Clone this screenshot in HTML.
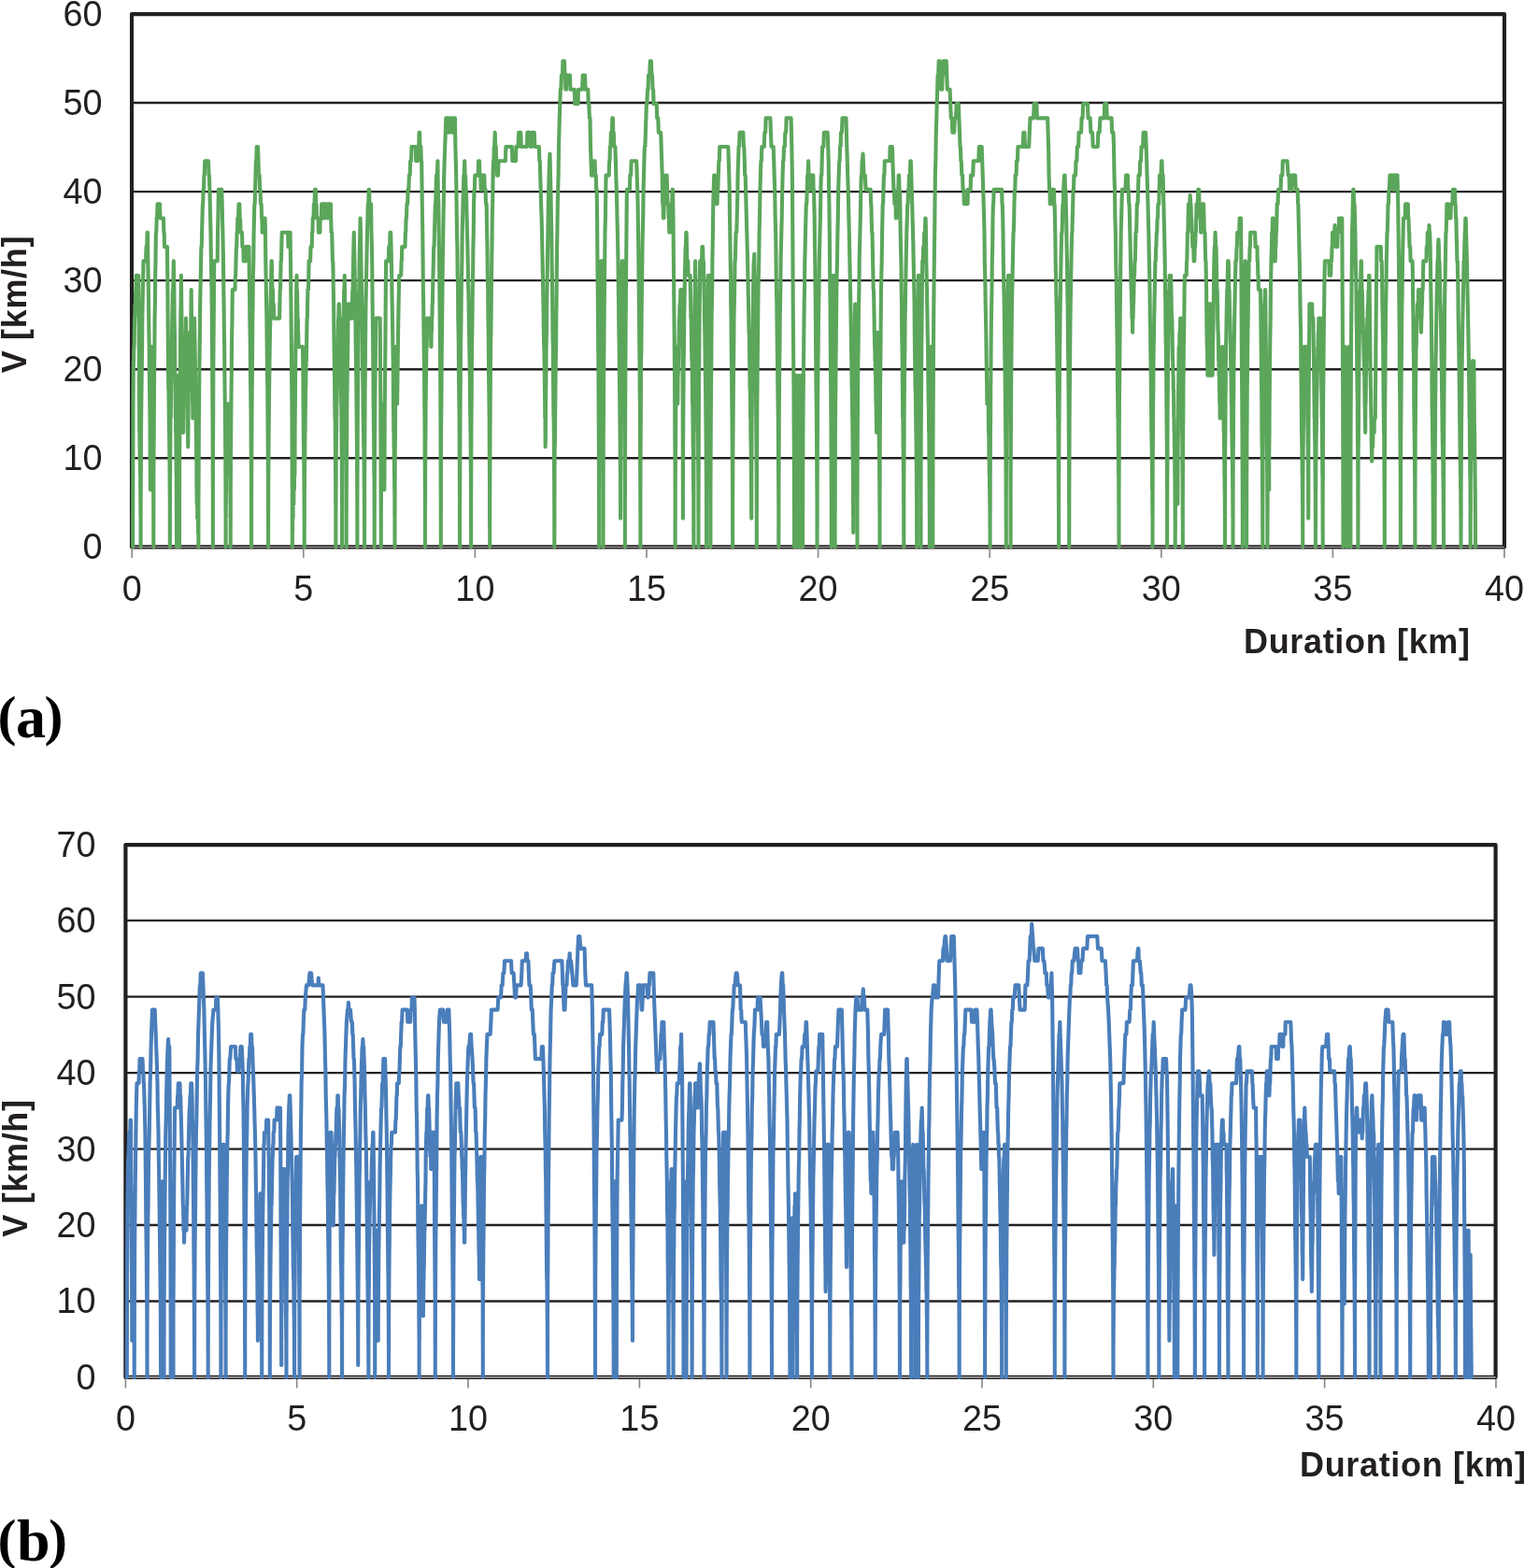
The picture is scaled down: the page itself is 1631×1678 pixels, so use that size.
<!DOCTYPE html>
<html lang="en">
<head>
<meta charset="utf-8">
<title>Speed profiles</title>
<style>
html,body{margin:0;padding:0;background:#fff;}
body{width:1631px;height:1678px;overflow:hidden;}
svg{display:block;}
.t{font-family:"Liberation Sans",sans-serif;font-size:38.8px;fill:#231f20;}
.b{font-family:"Liberation Sans",sans-serif;font-size:36px;font-weight:bold;letter-spacing:0.67px;fill:#231f20;}
.s{font-family:"Liberation Serif",serif;font-size:60px;font-weight:bold;fill:#000;}
</style>
</head>
<body>
<svg width="1631" height="1678" viewBox="0 0 1631 1678">
<rect width="1631" height="1678" fill="#fff"/>
<g id="chart-a">
<line x1="141.0" y1="490.25" x2="1610.0" y2="490.25" stroke="#231f20" stroke-width="2.4"/>
<line x1="141.0" y1="395.20" x2="1610.0" y2="395.20" stroke="#231f20" stroke-width="2.4"/>
<line x1="141.0" y1="300.15" x2="1610.0" y2="300.15" stroke="#231f20" stroke-width="2.4"/>
<line x1="141.0" y1="205.10" x2="1610.0" y2="205.10" stroke="#231f20" stroke-width="2.4"/>
<line x1="141.0" y1="110.05" x2="1610.0" y2="110.05" stroke="#231f20" stroke-width="2.4"/>
<rect x="141.0" y="15.10" width="1469.0" height="570.30" fill="none" stroke="#231f20" stroke-width="4.1" stroke-linejoin="round"/>
<line x1="141.0" y1="585.40" x2="1610.0" y2="585.40" stroke="#c4c4c4" stroke-width="0.9"/>
<line x1="141.2" y1="587.4" x2="141.2" y2="596.9" stroke="#8c8c8c" stroke-width="1.7"/>
<line x1="324.8" y1="587.4" x2="324.8" y2="596.9" stroke="#8c8c8c" stroke-width="1.7"/>
<line x1="508.4" y1="587.4" x2="508.4" y2="596.9" stroke="#8c8c8c" stroke-width="1.7"/>
<line x1="692.0" y1="587.4" x2="692.0" y2="596.9" stroke="#8c8c8c" stroke-width="1.7"/>
<line x1="875.6" y1="587.4" x2="875.6" y2="596.9" stroke="#8c8c8c" stroke-width="1.7"/>
<line x1="1059.2" y1="587.4" x2="1059.2" y2="596.9" stroke="#8c8c8c" stroke-width="1.7"/>
<line x1="1242.8" y1="587.4" x2="1242.8" y2="596.9" stroke="#8c8c8c" stroke-width="1.7"/>
<line x1="1426.4" y1="587.4" x2="1426.4" y2="596.9" stroke="#8c8c8c" stroke-width="1.7"/>
<line x1="1610.0" y1="587.4" x2="1610.0" y2="596.9" stroke="#8c8c8c" stroke-width="1.7"/>
<polyline fill="none" stroke="#5ba65b" stroke-width="4.1" stroke-linejoin="round" stroke-linecap="round" points="142.2,585.3 142.2,554.7 142.3,508.8 142.4,478.2 142.5,432.3 142.7,401.7 142.9,386.4 143.1,386.4 143.3,371.1 143.6,371.1 143.8,355.8 144.1,340.6 144.3,340.6 144.6,325.3 144.9,325.3 145.2,310.0 145.5,310.0 145.8,294.7 148.2,294.7 148.5,325.3 148.7,355.8 148.9,401.7 149.1,432.3 149.2,462.9 149.4,462.9 149.5,478.2 149.6,478.2 149.7,493.5 149.9,493.5 150.0,508.8 150.2,508.8 150.2,524.1 150.3,524.1 150.3,539.4 150.4,539.4 150.5,554.7 150.6,554.7 150.6,570.0 150.6,570.0 150.6,585.3 150.6,585.3 150.6,570.0 150.6,554.7 150.7,524.1 150.8,508.8 150.9,493.5 151.0,462.9 151.1,447.6 151.3,432.3 151.5,417.0 151.7,401.7 151.9,386.4 152.1,371.1 152.3,340.6 152.6,325.3 152.9,310.0 153.2,294.7 153.5,279.4 156.1,279.4 156.5,264.1 157.2,264.1 157.6,248.8 158.0,248.8 158.3,279.4 158.6,294.7 158.9,310.0 159.2,340.6 159.4,355.8 159.7,371.1 159.9,401.7 160.1,417.0 160.3,432.3 160.5,447.6 160.6,462.9 160.7,493.5 160.8,508.8 160.9,524.1 161.0,508.8 161.1,493.5 161.2,478.2 161.3,462.9 161.5,432.3 161.6,417.0 161.8,401.7 162.0,386.4 162.3,371.1 162.5,386.4 162.7,401.7 162.9,401.7 163.1,417.0 163.3,432.3 163.4,447.6 163.6,447.6 163.7,462.9 163.8,478.2 163.9,493.5 164.0,508.8 164.1,508.8 164.2,524.1 164.2,539.4 164.3,554.7 164.3,554.7 164.3,570.0 164.3,585.3 164.3,554.7 164.4,539.4 164.4,508.8 164.5,493.5 164.7,462.9 164.8,447.6 165.0,417.0 165.1,401.7 165.4,371.1 165.6,340.6 165.9,325.3 166.2,294.7 166.5,279.4 166.9,248.8 167.3,248.8 167.7,233.5 168.1,233.5 168.5,218.2 171.0,218.2 171.4,233.5 175.0,233.5 175.3,248.8 175.7,248.8 176.0,264.1 178.9,264.1 179.3,294.7 179.6,340.6 179.9,371.1 180.1,401.7 180.3,417.0 180.5,417.0 180.7,432.3 180.8,447.6 181.0,462.9 181.1,462.9 181.3,478.2 181.4,493.5 181.5,493.5 181.6,508.8 181.6,524.1 181.7,524.1 181.8,539.4 181.8,554.7 181.8,570.0 181.8,570.0 181.8,585.3 181.9,570.0 181.9,554.7 181.9,539.4 182.0,539.4 182.0,524.1 182.1,508.8 182.2,493.5 182.3,478.2 182.4,462.9 182.5,447.6 182.7,447.6 182.9,432.3 183.0,417.0 183.2,401.7 183.4,386.4 183.6,371.1 183.9,371.1 184.1,355.8 184.3,340.6 184.6,325.3 184.9,310.0 185.2,310.0 185.5,294.7 185.8,279.4 186.1,294.7 186.4,310.0 186.6,340.6 186.9,355.8 187.1,371.1 187.3,401.7 187.5,417.0 187.7,432.3 187.8,447.6 188.0,447.6 188.1,462.9 188.3,462.9 188.4,478.2 188.5,493.5 188.6,493.5 188.7,508.8 188.8,508.8 188.8,524.1 188.9,524.1 188.9,539.4 189.0,554.7 189.0,554.7 189.0,570.0 189.1,570.0 189.1,585.3 189.1,570.0 189.1,554.7 189.1,539.4 189.2,524.1 189.3,508.8 189.4,493.5 189.5,478.2 189.6,462.9 189.8,447.6 189.9,432.3 190.1,432.3 190.2,417.0 190.4,401.7 190.6,401.7 190.8,417.0 190.9,432.3 191.1,462.9 191.2,478.2 191.3,493.5 191.4,493.5 191.5,508.8 191.6,508.8 191.6,524.1 191.7,524.1 191.8,539.4 191.8,539.4 191.9,554.7 191.9,554.7 191.9,570.0 192.0,570.0 192.0,585.3 192.0,585.3 192.0,570.0 192.0,539.4 192.1,524.1 192.1,508.8 192.2,478.2 192.4,462.9 192.5,447.6 192.7,417.0 192.8,401.7 193.0,371.1 193.3,340.6 193.6,325.3 193.9,294.7 194.2,325.3 194.4,340.6 194.7,371.1 194.9,401.7 195.1,417.0 195.3,417.0 195.5,432.3 195.6,432.3 195.8,447.6 196.0,447.6 196.1,462.9 196.2,447.6 196.4,432.3 196.6,401.7 196.7,386.4 197.0,371.1 197.2,386.4 197.4,401.7 197.6,401.7 197.8,417.0 198.0,432.3 198.2,417.0 198.3,401.7 198.5,371.1 198.8,355.8 199.0,340.6 199.2,355.8 199.5,371.1 199.7,386.4 199.9,401.7 200.0,417.0 200.2,432.3 200.6,432.3 200.7,447.6 200.9,462.9 201.1,462.9 201.2,478.2 201.4,462.9 201.5,447.6 201.7,417.0 201.9,401.7 202.1,386.4 202.3,371.1 202.7,371.1 203.0,355.8 203.2,371.1 203.4,386.4 203.6,401.7 203.8,417.0 204.0,386.4 204.2,371.1 204.4,340.6 204.7,310.0 205.0,340.6 205.3,371.1 205.5,401.7 205.7,417.0 205.9,417.0 206.1,432.3 206.2,432.3 206.4,447.6 206.5,432.3 206.7,417.0 206.9,401.7 207.1,386.4 207.3,371.1 207.5,355.8 207.8,355.8 208.1,340.6 208.3,355.8 208.6,371.1 208.8,386.4 209.0,401.7 209.2,417.0 209.4,432.3 209.5,432.3 209.7,447.6 209.8,462.9 209.9,462.9 210.1,478.2 210.2,493.5 210.4,493.5 210.4,508.8 210.5,524.1 210.6,524.1 210.7,539.4 211.2,539.4 211.2,554.7 212.0,554.7 212.0,570.0 212.4,570.0 212.4,585.3 212.4,585.3 212.4,570.0 212.4,539.4 212.5,524.1 212.6,508.8 212.7,493.5 212.8,462.9 212.9,447.6 213.1,432.3 213.3,401.7 213.5,386.4 213.7,371.1 213.9,355.8 214.2,325.3 214.5,310.0 214.8,294.7 215.1,279.4 215.4,264.1 215.8,264.1 216.1,248.8 216.5,233.5 216.9,218.2 217.2,218.2 217.6,202.9 218.0,202.9 218.4,187.6 218.8,187.6 219.2,172.3 223.0,172.3 223.5,187.6 223.9,187.6 224.4,202.9 224.8,218.2 225.1,233.5 225.5,248.8 225.9,279.4 226.2,294.7 226.5,310.0 226.8,340.6 227.0,371.1 227.2,401.7 227.4,432.3 227.6,462.9 227.7,493.5 227.8,524.1 227.8,554.7 227.9,585.3 227.9,554.7 227.9,508.8 228.0,478.2 228.2,447.6 228.3,401.7 228.5,371.1 228.9,325.3 229.2,279.4 232.7,279.4 233.0,248.8 233.4,233.5 233.9,202.9 237.3,202.9 237.7,218.2 238.0,233.5 238.4,248.8 238.7,264.1 239.0,279.4 239.3,310.0 239.6,325.3 239.9,355.8 240.2,371.1 240.4,401.7 240.6,417.0 240.8,432.3 240.9,447.6 241.1,462.9 241.2,478.2 241.3,493.5 241.4,508.8 241.5,524.1 241.5,539.4 241.6,554.7 241.6,570.0 241.6,585.3 241.6,585.3 241.6,570.0 241.6,570.0 241.6,554.7 241.7,554.7 241.7,539.4 241.8,539.4 241.9,524.1 242.0,524.1 242.0,508.8 242.2,508.8 242.3,493.5 242.5,493.5 242.6,478.2 242.7,478.2 242.8,462.9 243.2,462.9 243.4,447.6 243.7,447.6 243.8,432.3 244.5,432.3 244.6,447.6 244.9,447.6 245.1,462.9 245.5,462.9 245.6,478.2 245.7,478.2 245.8,493.5 246.0,493.5 246.1,508.8 246.3,508.8 246.4,524.1 246.4,524.1 246.5,539.4 246.6,539.4 246.6,554.7 246.7,554.7 246.7,570.0 246.7,570.0 246.7,585.3 246.7,585.3 246.7,570.0 246.8,554.7 246.8,524.1 246.9,508.8 247.0,493.5 247.1,478.2 247.2,462.9 247.4,432.3 247.6,417.0 247.8,401.7 248.0,371.1 248.2,355.8 248.5,340.6 248.8,310.0 251.5,310.0 251.9,294.7 252.2,294.7 252.5,279.4 252.9,264.1 253.2,264.1 253.6,248.8 254.0,248.8 254.3,233.5 255.1,233.5 255.5,218.2 256.3,218.2 256.7,233.5 257.1,233.5 257.5,248.8 259.0,248.8 259.4,264.1 260.4,264.1 260.7,279.4 262.9,279.4 263.2,264.1 266.5,264.1 266.8,294.7 267.1,310.0 267.3,340.6 267.6,355.8 267.8,371.1 268.0,401.7 268.2,417.0 268.4,432.3 268.6,447.6 268.7,478.2 268.8,493.5 268.9,508.8 269.0,524.1 269.0,554.7 269.0,570.0 269.1,585.3 269.1,554.7 269.1,539.4 269.2,508.8 269.3,493.5 269.4,462.9 269.5,447.6 269.7,417.0 269.9,401.7 270.1,371.1 270.3,340.6 270.6,325.3 270.9,294.7 271.3,279.4 271.6,248.8 272.0,233.5 272.3,218.2 272.7,218.2 273.1,202.9 273.5,187.6 273.9,172.3 274.3,172.3 274.7,157.0 276.0,157.0 276.5,172.3 276.9,187.6 277.7,187.6 278.1,202.9 278.6,202.9 279.0,218.2 279.7,218.2 280.1,233.5 280.4,233.5 280.7,248.8 281.4,248.8 281.8,233.5 283.6,233.5 284.0,248.8 284.3,279.4 284.6,294.7 284.8,310.0 285.1,325.3 285.4,340.6 285.7,371.1 285.9,386.4 286.1,401.7 286.3,417.0 286.4,432.3 286.6,462.9 286.7,478.2 286.8,493.5 286.9,508.8 287.0,524.1 287.0,554.7 287.1,570.0 287.1,585.3 287.1,570.0 287.1,554.7 287.2,539.4 287.2,524.1 287.3,508.8 287.4,493.5 287.5,478.2 287.6,462.9 287.8,447.6 287.9,432.3 288.1,417.0 288.3,401.7 288.5,386.4 288.7,371.1 289.0,355.8 289.3,340.6 289.5,325.3 289.9,310.0 290.2,294.7 290.5,279.4 290.8,279.4 291.1,294.7 291.4,310.0 292.0,310.0 292.2,325.3 292.8,325.3 293.1,340.6 299.1,340.6 299.4,325.3 299.7,310.0 300.0,310.0 300.3,294.7 300.6,279.4 301.0,279.4 301.3,264.1 301.7,248.8 308.1,248.8 308.5,264.1 308.9,264.1 309.2,248.8 310.6,248.8 311.0,279.4 311.3,310.0 311.6,340.6 311.9,371.1 312.1,401.7 312.3,417.0 312.5,447.6 312.6,478.2 312.7,508.8 312.8,524.1 312.8,554.7 312.8,585.3 312.9,585.3 312.9,570.0 313.1,570.0 313.1,554.7 313.6,554.7 313.7,539.4 314.3,539.4 314.4,524.1 314.9,524.1 315.0,508.8 315.4,508.8 315.5,493.5 315.6,462.9 315.7,447.6 315.9,432.3 316.0,417.0 316.2,386.4 316.4,371.1 316.7,355.8 316.9,340.6 317.2,310.0 317.5,294.7 317.7,310.0 318.0,310.0 318.3,325.3 318.5,340.6 318.8,340.6 319.0,355.8 319.2,355.8 319.5,371.1 324.0,371.1 324.2,386.4 324.4,401.7 324.6,432.3 324.7,447.6 324.8,462.9 325.0,478.2 325.1,478.2 325.2,493.5 325.3,493.5 325.4,508.8 325.5,524.1 325.5,524.1 325.6,539.4 325.6,554.7 325.7,554.7 325.7,570.0 325.7,570.0 325.7,585.3 325.7,570.0 325.7,570.0 325.8,554.7 325.8,539.4 325.9,524.1 325.9,524.1 326.0,508.8 326.1,493.5 326.2,493.5 326.3,478.2 326.4,462.9 326.6,462.9 326.7,447.6 326.9,432.3 327.0,417.0 327.2,417.0 327.4,401.7 327.6,386.4 327.9,386.4 328.1,371.1 328.3,355.8 328.6,340.6 328.9,340.6 329.1,325.3 329.4,310.0 330.0,310.0 330.3,294.7 330.6,279.4 332.1,279.4 332.5,264.1 333.8,264.1 334.1,248.8 334.4,248.8 334.8,233.5 335.5,233.5 335.9,218.2 336.6,218.2 337.0,202.9 337.8,202.9 338.2,218.2 338.6,218.2 339.0,233.5 340.6,233.5 340.9,248.8 342.4,248.8 342.7,233.5 343.8,233.5 344.2,218.2 346.3,218.2 346.7,233.5 347.0,233.5 347.3,218.2 349.7,218.2 350.1,233.5 350.4,233.5 350.8,218.2 353.9,218.2 354.2,233.5 354.6,248.8 355.2,248.8 355.6,264.1 355.9,279.4 356.3,279.4 356.6,294.7 356.8,310.0 357.1,325.3 357.4,355.8 357.6,371.1 357.8,386.4 358.0,401.7 358.2,417.0 358.3,432.3 358.5,447.6 358.7,447.6 358.8,462.9 358.9,478.2 359.0,493.5 359.1,508.8 359.2,524.1 359.2,539.4 359.3,539.4 359.3,554.7 359.3,570.0 359.4,585.3 359.4,570.0 359.4,554.7 359.4,554.7 359.5,539.4 359.5,524.1 359.6,524.1 359.7,508.8 359.7,493.5 359.8,478.2 360.0,462.9 360.1,462.9 360.2,447.6 360.4,432.3 360.5,432.3 360.7,417.0 360.9,401.7 361.1,386.4 361.3,386.4 361.6,371.1 361.8,355.8 362.1,340.6 362.3,340.6 362.6,325.3 362.9,325.3 363.2,340.6 363.8,340.6 364.1,355.8 364.4,371.1 364.6,386.4 364.8,401.7 365.0,417.0 365.2,432.3 365.4,447.6 365.5,462.9 365.6,478.2 365.8,493.5 365.8,508.8 365.9,524.1 366.0,539.4 366.0,554.7 366.0,570.0 366.1,585.3 366.1,570.0 366.1,539.4 366.1,524.1 366.2,508.8 366.3,478.2 366.4,462.9 366.6,447.6 366.7,417.0 366.9,401.7 367.1,386.4 367.4,371.1 367.6,340.6 367.9,325.3 368.2,310.0 368.5,310.0 368.8,294.7 369.1,325.3 369.4,340.6 369.7,371.1 369.9,401.7 370.1,417.0 370.2,447.6 370.4,462.9 370.5,493.5 370.6,508.8 370.6,539.4 370.7,554.7 370.7,585.3 370.7,570.0 370.7,554.7 370.8,524.1 370.9,508.8 370.9,493.5 371.1,478.2 371.2,462.9 371.3,432.3 371.5,417.0 371.7,401.7 371.9,386.4 372.2,371.1 372.5,340.6 372.7,325.3 373.0,325.3 373.3,340.6 374.3,340.6 374.6,325.3 375.7,325.3 376.0,340.6 376.8,340.6 377.0,325.3 377.3,310.0 377.6,310.0 377.8,294.7 378.1,279.4 378.4,264.1 378.8,248.8 379.1,264.1 379.4,279.4 379.7,294.7 380.0,310.0 380.2,325.3 380.5,340.6 380.7,371.1 381.0,386.4 381.2,401.7 381.4,417.0 381.5,432.3 381.7,447.6 381.8,462.9 382.0,478.2 382.1,493.5 382.2,508.8 382.2,524.1 382.3,539.4 382.3,554.7 382.4,570.0 382.4,585.3 382.4,554.7 382.4,539.4 382.5,508.8 382.6,493.5 382.7,462.9 382.8,447.6 383.0,417.0 383.2,401.7 383.4,371.1 383.7,340.6 383.9,325.3 384.3,310.0 384.6,279.4 384.9,264.1 385.3,248.8 385.6,233.5 386.0,248.8 386.4,279.4 386.7,294.7 387.0,310.0 387.3,325.3 387.5,340.6 387.8,355.8 388.0,386.4 388.2,401.7 388.4,417.0 388.5,432.3 388.7,447.6 388.8,447.6 389.0,462.9 389.1,462.9 389.2,478.2 389.4,478.2 389.5,493.5 389.6,493.5 389.7,508.8 389.7,508.8 389.8,524.1 389.9,524.1 389.9,539.4 390.0,539.4 390.0,554.7 390.0,554.7 390.1,570.0 390.1,570.0 390.1,585.3 390.1,554.7 390.1,524.1 390.2,508.8 390.3,478.2 390.5,447.6 390.6,417.0 390.8,401.7 391.0,371.1 391.3,340.6 391.5,325.3 391.8,310.0 392.1,294.7 392.4,279.4 392.7,264.1 393.0,248.8 393.4,233.5 393.8,218.2 394.3,218.2 394.7,202.9 395.1,202.9 395.4,218.2 397.1,218.2 397.5,248.8 397.9,264.1 398.2,279.4 398.5,310.0 398.8,340.6 399.1,355.8 399.3,386.4 399.5,401.7 399.7,432.3 399.9,447.6 400.0,462.9 400.1,462.9 400.2,478.2 400.3,493.5 400.4,508.8 400.5,508.8 400.6,524.1 400.6,539.4 400.7,554.7 400.7,554.7 400.7,570.0 400.7,585.3 400.7,570.0 400.8,539.4 400.8,524.1 400.9,508.8 401.0,478.2 401.1,462.9 401.2,447.6 401.4,417.0 401.6,401.7 401.8,386.4 402.0,355.8 402.3,340.6 406.7,340.6 407.0,386.4 407.3,432.3 407.4,462.9 407.5,478.2 407.6,508.8 407.7,539.4 407.8,554.7 407.8,585.3 407.8,570.0 407.8,570.0 407.8,554.7 407.8,554.7 407.9,539.4 407.9,524.1 408.0,524.1 408.1,508.8 408.2,508.8 408.2,493.5 408.3,493.5 408.5,478.2 408.6,462.9 408.7,462.9 408.8,447.6 409.0,447.6 409.1,432.3 409.3,432.3 409.5,447.6 409.9,447.6 410.0,462.9 410.3,462.9 410.4,478.2 410.7,478.2 410.8,493.5 411.0,493.5 411.1,508.8 411.2,508.8 411.3,524.1 411.4,524.1 411.5,508.8 411.6,478.2 411.7,462.9 411.8,432.3 412.0,417.0 412.2,386.4 412.4,371.1 412.7,325.3 413.1,279.4 415.8,279.4 416.2,264.1 417.2,264.1 417.5,248.8 418.2,248.8 418.6,264.1 418.9,279.4 419.2,294.7 419.4,310.0 419.7,325.3 420.0,340.6 420.2,355.8 420.4,371.1 420.7,386.4 420.9,417.0 421.0,432.3 421.2,447.6 421.3,462.9 421.5,462.9 421.6,478.2 421.7,478.2 421.8,493.5 421.9,493.5 422.0,508.8 422.1,508.8 422.2,524.1 422.3,524.1 422.4,539.4 422.4,539.4 422.4,554.7 422.5,554.7 422.5,570.0 422.5,570.0 422.5,585.3 422.5,585.3 422.5,570.0 422.6,539.4 422.6,524.1 422.7,493.5 422.8,478.2 423.0,462.9 423.1,432.3 423.3,417.0 423.5,386.4 423.7,371.1 424.0,386.4 424.2,386.4 424.4,401.7 424.6,401.7 424.8,417.0 424.9,417.0 425.1,432.3 425.3,417.0 425.5,401.7 425.7,386.4 425.9,371.1 426.1,355.8 426.3,340.6 426.6,325.3 426.9,310.0 427.2,294.7 429.2,294.7 429.6,279.4 429.9,279.4 430.2,264.1 433.5,264.1 433.9,248.8 434.2,248.8 434.6,233.5 435.0,233.5 435.4,218.2 436.2,218.2 436.6,202.9 437.4,202.9 437.9,187.6 438.7,187.6 439.2,172.3 440.0,172.3 440.5,157.0 444.8,157.0 445.2,172.3 446.9,172.3 447.3,157.0 448.2,157.0 448.6,141.7 449.1,141.7 449.5,157.0 450.4,157.0 450.8,172.3 451.2,172.3 451.6,202.9 452.0,233.5 452.3,248.8 452.6,279.4 452.9,310.0 453.2,325.3 453.5,355.8 453.7,371.1 453.9,386.4 454.1,401.7 454.3,432.3 454.5,447.6 454.6,462.9 454.7,493.5 454.8,508.8 454.9,524.1 454.9,539.4 455.0,570.0 455.0,585.3 455.0,570.0 455.0,554.7 455.1,524.1 455.1,508.8 455.2,493.5 455.3,478.2 455.5,462.9 455.6,432.3 455.8,417.0 456.0,401.7 456.2,386.4 456.4,371.1 456.7,371.1 456.9,355.8 457.2,340.6 460.0,340.6 460.3,355.8 461.0,355.8 461.3,371.1 461.5,371.1 461.7,355.8 461.9,355.8 462.2,340.6 462.4,340.6 462.7,325.3 462.9,325.3 463.2,310.0 463.5,294.7 463.9,279.4 464.2,264.1 464.6,264.1 465.0,248.8 465.4,233.5 465.8,218.2 466.2,218.2 466.6,202.9 467.0,187.6 467.9,187.6 468.4,172.3 468.8,202.9 469.3,218.2 469.7,248.8 470.1,279.4 470.4,310.0 470.7,340.6 471.0,371.1 471.2,401.7 471.4,432.3 471.5,462.9 471.6,493.5 471.7,524.1 471.8,554.7 471.8,585.3 471.8,554.7 471.9,539.4 471.9,524.1 472.0,493.5 472.1,462.9 472.2,447.6 472.4,432.3 472.6,401.7 472.8,371.1 473.0,355.8 473.2,340.6 473.5,310.0 473.8,279.4 474.1,264.1 474.5,233.5 474.8,218.2 475.2,187.6 475.7,172.3 476.2,157.0 476.8,141.7 477.3,126.4 479.0,126.4 479.7,141.7 480.7,141.7 481.4,126.4 483.1,126.4 483.8,141.7 484.8,141.7 485.5,126.4 486.9,126.4 487.4,157.0 487.8,172.3 488.2,187.6 488.6,218.2 489.0,248.8 489.4,264.1 489.7,294.7 490.1,310.0 490.3,340.6 490.6,355.8 490.8,371.1 491.0,401.7 491.2,417.0 491.4,432.3 491.6,447.6 491.7,478.2 491.8,493.5 491.9,508.8 492.0,524.1 492.0,554.7 492.0,570.0 492.1,585.3 492.1,554.7 492.1,539.4 492.2,524.1 492.3,493.5 492.4,462.9 492.5,447.6 492.6,432.3 492.8,401.7 493.0,371.1 493.3,355.8 493.5,340.6 493.8,310.0 494.1,294.7 494.4,279.4 494.7,248.8 495.1,233.5 495.5,218.2 495.9,202.9 496.3,187.6 496.8,187.6 497.2,172.3 497.6,187.6 498.1,187.6 498.5,202.9 498.9,202.9 499.3,218.2 499.6,233.5 500.0,248.8 500.4,264.1 500.7,279.4 501.0,294.7 501.3,310.0 501.6,325.3 501.8,340.6 502.1,355.8 502.3,371.1 502.6,386.4 502.8,401.7 503.0,417.0 503.1,432.3 503.3,447.6 503.5,462.9 503.6,462.9 503.7,478.2 503.8,493.5 503.9,508.8 504.0,524.1 504.0,539.4 504.0,554.7 504.1,570.0 504.1,585.3 504.1,554.7 504.1,539.4 504.2,524.1 504.3,493.5 504.4,462.9 504.5,447.6 504.7,432.3 504.8,401.7 505.0,371.1 505.3,355.8 505.5,340.6 505.8,310.0 506.1,294.7 506.4,264.1 506.8,248.8 507.1,218.2 507.5,202.9 507.9,202.9 508.3,187.6 511.7,187.6 512.1,172.3 513.0,172.3 513.4,187.6 514.3,187.6 514.7,202.9 515.2,202.9 515.6,187.6 518.3,187.6 518.7,202.9 519.6,202.9 520.0,218.2 520.7,218.2 521.1,248.8 521.5,264.1 521.8,294.7 522.2,310.0 522.4,340.6 522.7,355.8 522.9,371.1 523.1,401.7 523.3,417.0 523.5,432.3 523.7,447.6 523.8,478.2 523.9,493.5 524.0,508.8 524.1,524.1 524.1,554.7 524.2,570.0 524.2,585.3 524.2,554.7 524.2,539.4 524.3,524.1 524.4,493.5 524.5,462.9 524.6,447.6 524.7,432.3 524.9,401.7 525.1,371.1 525.4,355.8 525.6,340.6 525.9,310.0 526.2,279.4 526.5,264.1 526.8,233.5 527.2,218.2 527.6,187.6 528.0,172.3 528.4,172.3 528.8,157.0 529.2,157.0 529.7,141.7 530.2,157.0 530.7,157.0 531.2,172.3 531.6,172.3 532.0,187.6 533.1,187.6 533.5,172.3 540.9,172.3 541.4,157.0 547.9,157.0 548.4,172.3 552.0,172.3 552.4,157.0 554.5,157.0 555.2,141.7 557.3,141.7 557.8,157.0 564.0,157.0 564.4,141.7 567.1,141.7 567.8,157.0 568.8,157.0 569.5,141.7 571.8,141.7 572.3,157.0 576.9,157.0 577.3,172.3 577.8,172.3 578.2,187.6 578.7,202.9 579.1,218.2 579.6,233.5 580.0,248.8 580.3,264.1 580.6,279.4 580.9,294.7 581.2,310.0 581.4,325.3 581.7,340.6 581.9,355.8 582.2,371.1 582.4,371.1 582.6,386.4 582.8,401.7 583.0,417.0 583.2,432.3 583.3,447.6 583.5,447.6 583.6,462.9 583.7,478.2 583.9,462.9 584.0,432.3 584.2,417.0 584.4,401.7 584.6,371.1 584.9,355.8 585.2,325.3 585.5,310.0 585.7,294.7 586.1,264.1 586.4,248.8 586.8,218.2 587.2,202.9 587.6,187.6 588.1,172.3 588.5,164.6 589.0,187.6 589.4,202.9 589.9,233.5 590.3,248.8 590.6,279.4 590.9,294.7 591.2,325.3 591.5,355.8 591.8,371.1 592.0,401.7 592.2,417.0 592.3,432.3 592.5,447.6 592.6,447.6 592.8,462.9 592.9,478.2 593.0,493.5 593.1,508.8 593.2,524.1 593.2,539.4 593.3,539.4 593.3,554.7 593.3,570.0 593.3,585.3 593.4,570.0 593.4,554.7 593.4,539.4 593.5,524.1 593.5,508.8 593.6,493.5 593.7,478.2 593.8,478.2 594.0,462.9 594.1,447.6 594.3,432.3 594.4,417.0 594.6,401.7 594.8,386.4 595.1,371.1 595.3,340.6 595.5,325.3 595.8,294.7 596.1,264.1 596.4,248.8 596.8,218.2 597.2,202.9 597.6,187.6 598.0,157.0 598.4,141.7 598.8,126.4 599.3,111.1 599.8,95.8 600.4,95.8 600.9,80.5 601.9,80.5 602.4,65.2 604.0,65.2 604.5,80.5 604.9,80.5 605.4,95.8 605.9,95.8 606.5,80.5 610.0,80.5 610.4,95.8 614.8,95.8 615.3,111.1 618.6,111.1 619.0,95.8 623.1,95.8 623.7,80.5 626.0,80.5 626.6,95.8 629.3,95.8 629.7,111.1 630.3,111.1 630.9,126.4 631.5,126.4 632.0,157.0 632.5,172.3 633.0,187.6 635.2,187.6 635.6,172.3 636.6,172.3 637.0,187.6 637.8,187.6 638.2,202.9 638.7,202.9 639.1,233.5 639.4,279.4 639.7,310.0 640.0,340.6 640.2,371.1 640.5,401.7 640.6,432.3 640.8,462.9 640.9,493.5 641.0,524.1 641.1,554.7 641.1,585.3 641.1,554.7 641.1,539.4 641.2,508.8 641.3,493.5 641.4,462.9 641.5,447.6 641.7,417.0 641.9,401.7 642.1,371.1 642.3,340.6 642.6,325.3 642.8,310.0 643.1,279.4 644.5,279.4 644.8,325.3 645.1,386.4 645.3,432.3 645.4,478.2 645.5,539.4 645.5,585.3 645.6,554.7 645.6,524.1 645.7,493.5 645.8,462.9 646.0,432.3 646.1,401.7 646.4,371.1 646.6,340.6 646.9,310.0 647.2,279.4 647.5,248.8 647.9,233.5 648.3,202.9 648.6,187.6 651.7,187.6 652.1,172.3 652.5,172.3 652.9,157.0 653.4,157.0 653.9,141.7 654.8,141.7 655.3,126.4 655.8,126.4 656.3,141.7 656.8,141.7 657.2,157.0 658.4,157.0 658.9,172.3 659.3,187.6 659.8,202.9 660.2,218.2 660.5,233.5 660.9,248.8 661.2,264.1 661.5,279.4 661.8,310.0 662.1,325.3 662.4,355.8 662.7,371.1 662.9,401.7 663.1,417.0 663.3,432.3 663.4,447.6 663.6,462.9 663.7,478.2 663.8,493.5 663.9,508.8 664.0,524.1 664.0,539.4 664.1,554.7 664.1,524.1 664.2,508.8 664.3,478.2 664.4,447.6 664.6,417.0 664.7,401.7 664.9,371.1 665.2,340.6 665.5,310.0 665.8,279.4 667.5,279.4 667.8,325.3 668.0,355.8 668.2,401.7 668.4,432.3 668.5,447.6 668.7,478.2 668.8,508.8 668.8,539.4 668.9,554.7 668.9,585.3 668.9,539.4 669.0,508.8 669.1,462.9 669.2,432.3 669.4,386.4 669.6,355.8 669.9,310.0 670.2,279.4 670.6,233.5 670.9,202.9 673.9,202.9 674.3,187.6 675.2,187.6 675.6,172.3 681.2,172.3 681.7,187.6 682.2,202.9 682.6,218.2 683.0,248.8 683.4,279.4 683.7,310.0 684.0,340.6 684.3,371.1 684.5,386.4 684.7,417.0 684.9,432.3 685.0,462.9 685.1,493.5 685.2,508.8 685.3,539.4 685.4,554.7 685.4,585.3 685.4,554.7 685.4,524.1 685.5,508.8 685.6,478.2 685.8,447.6 685.9,417.0 686.1,386.4 686.4,371.1 686.6,340.6 686.9,310.0 687.2,294.7 687.5,264.1 687.8,248.8 688.2,233.5 688.6,202.9 689.0,187.6 689.4,172.3 689.9,157.0 690.4,157.0 690.9,141.7 691.4,126.4 691.9,111.1 692.4,111.1 693.0,95.8 693.5,95.8 694.1,80.5 695.2,80.5 695.8,65.2 696.9,65.2 697.5,80.5 698.0,80.5 698.6,95.8 699.1,95.8 699.6,111.1 702.7,111.1 703.2,126.4 704.3,126.4 704.8,141.7 707.2,141.7 707.7,157.0 708.2,172.3 708.7,187.6 709.2,218.2 709.6,218.2 709.9,233.5 710.3,233.5 710.7,218.2 711.2,218.2 711.6,202.9 712.0,202.9 712.4,187.6 713.6,187.6 714.1,202.9 714.5,218.2 715.2,218.2 715.6,233.5 715.9,233.5 716.3,248.8 716.9,248.8 717.3,233.5 717.6,233.5 718.0,218.2 719.2,218.2 719.6,202.9 720.0,202.9 720.5,233.5 720.9,279.4 721.2,310.0 721.5,340.6 721.8,371.1 722.0,401.7 722.2,432.3 722.3,462.9 722.5,493.5 722.6,524.1 722.6,554.7 722.6,585.3 722.6,570.0 722.7,554.7 722.7,524.1 722.8,508.8 722.9,493.5 723.0,478.2 723.1,462.9 723.3,432.3 723.5,417.0 723.6,401.7 723.9,386.4 724.1,386.4 724.3,371.1 724.6,386.4 724.8,401.7 725.0,417.0 725.2,432.3 725.4,417.0 725.5,401.7 725.7,401.7 726.0,386.4 726.2,371.1 726.4,371.1 726.7,355.8 726.9,340.6 727.2,340.6 727.5,325.3 728.0,325.3 728.3,310.0 730.2,310.0 730.4,371.1 730.7,432.3 730.8,493.5 730.9,554.7 730.9,524.1 731.0,508.8 731.1,478.2 731.2,462.9 731.4,432.3 731.5,417.0 731.7,386.4 732.0,371.1 732.2,340.6 732.5,325.3 732.9,294.7 733.3,279.4 733.6,264.1 733.9,264.1 734.3,248.8 734.6,248.8 735.0,264.1 735.3,279.4 736.3,279.4 736.6,294.7 738.6,294.7 738.9,310.0 739.2,325.3 739.4,340.6 739.7,340.6 739.9,355.8 740.1,371.1 740.4,386.4 740.6,386.4 740.8,401.7 741.0,417.0 741.1,432.3 741.3,432.3 741.5,447.6 741.6,462.9 741.7,478.2 741.9,478.2 742.0,493.5 742.1,508.8 742.1,524.1 742.2,524.1 742.3,539.4 742.3,554.7 742.3,570.0 742.4,570.0 742.4,585.3 742.4,554.7 742.4,524.1 742.5,493.5 742.6,462.9 742.8,432.3 743.0,401.7 743.2,371.1 743.5,340.6 743.8,310.0 744.1,279.4 744.4,294.7 744.7,310.0 745.0,325.3 745.3,340.6 745.5,355.8 745.8,371.1 746.0,386.4 746.2,401.7 746.4,417.0 746.6,432.3 746.7,447.6 746.9,462.9 747.0,462.9 747.1,478.2 747.2,493.5 747.3,508.8 747.4,524.1 747.4,539.4 747.5,554.7 747.5,570.0 747.5,585.3 747.5,554.7 747.6,524.1 747.7,493.5 747.8,462.9 747.9,432.3 748.1,401.7 748.4,371.1 748.6,340.6 748.9,310.0 749.2,279.4 751.1,279.4 751.4,264.1 752.1,264.1 752.5,279.4 752.9,279.4 753.2,294.7 753.5,310.0 753.8,325.3 754.0,340.6 754.3,355.8 754.5,371.1 754.7,386.4 754.9,401.7 755.1,417.0 755.3,432.3 755.4,447.6 755.6,462.9 755.7,478.2 755.8,493.5 755.9,508.8 756.0,524.1 756.0,539.4 756.1,554.7 756.1,570.0 756.1,585.3 756.1,570.0 756.1,539.4 756.2,524.1 756.3,508.8 756.4,478.2 756.5,462.9 756.6,447.6 756.8,417.0 757.0,401.7 757.2,371.1 757.5,325.3 757.8,294.7 759.2,294.7 759.5,325.3 759.7,371.1 759.9,401.7 760.1,432.3 760.2,478.2 760.3,508.8 760.4,554.7 760.4,585.3 760.4,554.7 760.4,539.4 760.5,508.8 760.6,493.5 760.7,462.9 760.8,447.6 761.0,417.0 761.2,401.7 761.4,371.1 761.6,340.6 761.9,325.3 762.2,310.0 762.4,279.4 762.9,248.8 763.3,218.2 763.7,202.9 764.2,187.6 765.0,187.6 765.5,202.9 766.3,202.9 766.8,218.2 767.6,218.2 767.9,202.9 768.3,202.9 768.8,187.6 769.3,172.3 769.8,172.3 770.2,157.0 779.3,157.0 779.8,172.3 780.3,187.6 780.7,202.9 781.0,233.5 781.3,248.8 781.7,279.4 782.0,294.7 782.2,325.3 782.5,340.6 782.7,371.1 782.9,386.4 783.1,401.7 783.3,432.3 783.5,447.6 783.6,462.9 783.7,478.2 783.8,493.5 783.9,508.8 784.0,524.1 784.0,554.7 784.1,570.0 784.1,585.3 784.1,570.0 784.1,539.4 784.2,524.1 784.3,493.5 784.4,478.2 784.5,462.9 784.7,432.3 784.8,417.0 785.1,386.4 785.3,371.1 785.5,340.6 785.8,325.3 786.1,310.0 786.5,279.4 786.8,279.4 787.2,264.1 787.6,248.8 788.3,248.8 788.7,233.5 789.1,218.2 789.6,187.6 790.1,172.3 790.6,157.0 791.1,157.0 791.6,141.7 795.4,141.7 795.9,157.0 796.3,157.0 796.8,172.3 797.2,187.6 797.7,187.6 798.1,202.9 798.5,218.2 798.9,233.5 799.3,248.8 799.7,264.1 800.1,279.4 800.4,294.7 800.7,310.0 801.0,325.3 801.3,340.6 801.5,355.8 801.8,355.8 802.0,371.1 802.2,386.4 802.4,401.7 802.6,417.0 802.8,417.0 803.0,432.3 803.1,447.6 803.3,447.6 803.4,462.9 803.6,478.2 803.7,478.2 803.8,493.5 803.9,508.8 803.9,508.8 804.0,524.1 804.1,539.4 804.1,539.4 804.2,554.7 804.2,539.4 804.3,508.8 804.4,493.5 804.5,478.2 804.6,447.6 804.8,432.3 804.9,417.0 805.1,386.4 805.4,371.1 805.6,355.8 805.8,340.6 806.1,310.0 806.4,294.7 806.7,279.4 807.0,279.4 807.3,271.7 807.6,294.7 807.9,325.3 808.2,340.6 808.5,371.1 808.7,386.4 808.9,401.7 809.1,432.3 809.2,447.6 809.4,462.9 809.5,478.2 809.6,493.5 809.7,508.8 809.7,524.1 809.8,554.7 809.8,570.0 809.8,585.3 809.8,554.7 809.9,539.4 810.0,508.8 810.0,493.5 810.2,462.9 810.3,432.3 810.5,417.0 810.7,386.4 810.9,371.1 811.2,340.6 811.5,310.0 811.8,294.7 812.2,279.4 812.6,248.8 813.0,233.5 813.5,202.9 813.9,187.6 814.4,172.3 814.9,172.3 815.3,157.0 817.8,157.0 818.3,141.7 819.2,141.7 819.6,126.4 824.4,126.4 824.9,141.7 825.5,157.0 827.7,157.0 828.2,172.3 828.7,187.6 829.2,202.9 829.7,233.5 830.1,248.8 830.4,264.1 830.7,294.7 831.0,310.0 831.3,325.3 831.6,355.8 831.8,371.1 832.0,386.4 832.2,401.7 832.4,417.0 832.6,432.3 832.8,447.6 832.9,462.9 833.0,493.5 833.1,508.8 833.2,524.1 833.3,539.4 833.3,554.7 833.3,570.0 833.3,585.3 833.4,554.7 833.4,539.4 833.5,508.8 833.6,493.5 833.7,462.9 833.8,432.3 834.0,417.0 834.2,386.4 834.5,371.1 834.7,340.6 835.0,325.3 835.3,310.0 835.6,279.4 835.9,264.1 836.3,248.8 836.7,233.5 837.2,202.9 837.6,187.6 838.1,172.3 838.5,172.3 839.0,157.0 839.9,157.0 840.3,141.7 841.2,141.7 841.6,126.4 846.6,126.4 847.3,157.0 847.6,172.3 847.9,187.6 848.4,264.1 848.8,340.6 849.1,371.1 849.3,401.7 849.5,417.0 849.6,447.6 849.8,478.2 849.9,508.8 849.9,524.1 850.0,554.7 850.0,585.3 850.0,570.0 850.0,570.0 850.1,554.7 850.1,539.4 850.1,524.1 850.2,524.1 850.3,508.8 850.4,493.5 850.5,493.5 850.6,478.2 850.7,462.9 850.9,462.9 851.0,447.6 851.2,432.3 851.3,417.0 851.5,417.0 851.7,401.7 851.9,417.0 852.1,432.3 852.2,447.6 852.4,447.6 852.5,462.9 852.6,478.2 852.7,493.5 852.8,508.8 852.9,524.1 853.0,539.4 853.0,539.4 853.1,554.7 853.1,570.0 853.1,585.3 853.1,570.0 853.1,554.7 853.2,539.4 853.2,539.4 853.3,524.1 853.3,508.8 853.4,493.5 853.5,478.2 853.7,462.9 853.8,447.6 853.9,447.6 854.1,432.3 854.3,417.0 854.5,401.7 854.7,417.0 854.8,432.3 855.0,447.6 855.1,447.6 855.3,462.9 855.4,478.2 855.5,493.5 855.6,508.8 855.7,524.1 855.7,539.4 855.8,539.4 855.8,554.7 855.8,570.0 855.8,585.3 855.8,570.0 855.9,554.7 855.9,554.7 855.9,539.4 856.0,524.1 856.1,524.1 856.1,508.8 856.2,493.5 856.3,478.2 856.4,462.9 856.6,462.9 856.7,447.6 856.9,432.3 857.0,432.3 857.2,417.0 857.4,401.7 857.6,417.0 857.8,417.0 857.9,432.3 858.1,447.6 858.2,462.9 858.4,462.9 858.5,478.2 858.6,493.5 858.7,493.5 858.8,508.8 858.9,524.1 859.0,524.1 859.0,539.4 859.0,554.7 859.1,570.0 859.1,570.0 859.1,585.3 859.1,554.7 859.2,539.4 859.2,508.8 859.3,493.5 859.4,462.9 859.6,432.3 859.8,417.0 860.0,386.4 860.2,371.1 860.5,340.6 860.7,325.3 861.0,310.0 861.3,279.4 861.7,264.1 862.0,248.8 862.4,233.5 862.8,218.2 863.3,218.2 863.7,202.9 864.2,187.6 864.6,187.6 865.1,172.3 865.6,187.6 866.5,187.6 866.8,202.9 867.3,202.9 867.7,187.6 870.3,187.6 870.6,202.9 871.0,202.9 871.3,218.2 871.7,233.5 872.0,264.1 872.3,279.4 872.6,310.0 872.9,340.6 873.1,371.1 873.3,401.7 873.5,417.0 873.7,432.3 873.9,447.6 874.0,462.9 874.1,478.2 874.2,493.5 874.3,508.8 874.4,524.1 874.5,539.4 874.5,554.7 874.5,570.0 874.5,585.3 874.6,554.7 874.6,539.4 874.7,508.8 874.8,493.5 874.9,462.9 875.0,432.3 875.2,417.0 875.4,386.4 875.7,371.1 875.9,340.6 876.2,325.3 876.5,310.0 876.8,279.4 877.1,264.1 877.5,248.8 877.9,233.5 878.4,202.9 878.8,187.6 879.3,187.6 879.7,172.3 880.1,157.0 881.4,157.0 881.8,141.7 885.7,141.7 886.2,157.0 886.7,172.3 887.1,202.9 887.4,218.2 887.8,248.8 888.2,294.7 888.5,325.3 888.8,371.1 889.0,401.7 889.2,417.0 889.4,447.6 889.5,462.9 889.6,493.5 889.7,508.8 889.8,539.4 889.8,554.7 889.8,585.3 889.8,554.7 889.9,539.4 889.9,508.8 890.0,493.5 890.1,462.9 890.3,447.6 890.5,417.0 890.6,401.7 890.9,371.1 891.1,355.8 891.3,340.6 891.6,310.0 891.9,294.7 892.1,325.3 892.4,340.6 892.6,371.1 892.8,401.7 893.0,417.0 893.1,447.6 893.3,462.9 893.4,493.5 893.5,508.8 893.6,539.4 893.6,554.7 893.6,585.3 893.6,554.7 893.7,539.4 893.7,508.8 893.8,493.5 893.9,462.9 894.1,432.3 894.3,417.0 894.5,386.4 894.7,371.1 895.0,340.6 895.3,310.0 895.6,294.7 896.0,279.4 896.4,248.8 896.8,233.5 897.2,202.9 897.7,187.6 898.2,172.3 898.6,172.3 899.1,157.0 899.6,157.0 900.0,141.7 901.0,141.7 901.5,126.4 905.5,126.4 905.9,141.7 906.3,157.0 906.8,172.3 907.2,187.6 907.7,202.9 908.1,218.2 908.4,233.5 908.8,248.8 909.1,264.1 909.4,279.4 909.7,294.7 910.0,310.0 910.3,325.3 910.6,340.6 910.8,355.8 911.0,371.1 911.3,386.4 911.5,401.7 911.7,417.0 911.8,417.0 912.0,432.3 912.2,447.6 912.3,447.6 912.4,462.9 912.6,478.2 912.7,493.5 912.8,493.5 912.9,508.8 913.0,524.1 913.0,524.1 913.1,539.4 913.1,554.7 913.2,554.7 913.2,570.0 913.2,554.7 913.2,539.4 913.3,524.1 913.4,508.8 913.5,493.5 913.6,462.9 913.7,447.6 913.9,432.3 914.0,417.0 914.2,401.7 914.4,386.4 914.7,371.1 914.9,340.6 915.2,325.3 915.5,340.6 915.8,371.1 916.0,386.4 916.3,401.7 916.5,417.0 916.6,432.3 916.8,447.6 916.9,462.9 917.1,478.2 917.2,493.5 917.3,508.8 917.3,524.1 917.4,539.4 917.4,554.7 917.5,570.0 917.5,585.3 917.5,554.7 917.5,539.4 917.6,508.8 917.7,493.5 917.8,462.9 918.0,432.3 918.1,417.0 918.3,386.4 918.6,371.1 918.8,340.6 919.1,325.3 919.4,310.0 919.7,279.4 920.0,264.1 920.4,248.8 920.8,233.5 921.3,202.9 921.8,187.6 922.2,187.6 922.6,172.3 923.0,172.3 923.5,164.6 923.9,172.3 924.4,187.6 925.8,187.6 926.2,195.2 926.6,202.9 931.7,202.9 932.1,218.2 932.4,218.2 932.7,233.5 933.1,248.8 933.5,248.8 933.8,264.1 934.1,279.4 934.4,294.7 934.7,310.0 935.0,310.0 935.3,325.3 935.6,340.6 935.8,355.8 936.1,371.1 936.3,371.1 936.5,386.4 936.7,386.4 936.9,401.7 937.1,401.7 937.3,417.0 937.5,432.3 937.6,432.3 937.8,447.6 937.9,447.6 938.1,462.9 938.2,447.6 938.4,432.3 938.6,401.7 938.8,386.4 939.0,371.1 939.3,355.8 939.5,371.1 939.7,386.4 939.9,401.7 940.1,417.0 940.3,432.3 940.5,447.6 940.6,447.6 940.7,462.9 940.9,478.2 941.0,478.2 941.1,493.5 941.2,508.8 941.2,508.8 941.3,524.1 941.4,539.4 941.4,539.4 941.5,554.7 941.5,570.0 941.5,570.0 941.5,585.3 941.5,554.7 941.6,524.1 941.6,508.8 941.7,478.2 941.9,447.6 942.0,417.0 942.2,401.7 942.5,371.1 942.7,340.6 943.0,310.0 943.3,294.7 943.7,279.4 944.1,248.8 944.4,233.5 944.7,218.2 945.1,218.2 945.5,202.9 945.9,187.6 946.4,187.6 946.8,172.3 952.2,172.3 952.6,157.0 954.9,157.0 955.4,172.3 955.9,187.6 956.4,202.9 956.9,202.9 957.4,218.2 958.5,218.2 958.8,233.5 959.5,233.5 959.9,218.2 960.9,218.2 961.3,202.9 961.7,187.6 962.1,187.6 962.5,202.9 962.9,202.9 963.3,218.2 963.7,248.8 964.0,264.1 964.4,279.4 964.7,310.0 965.0,325.3 965.2,355.8 965.5,371.1 965.7,386.4 965.9,417.0 966.1,432.3 966.2,447.6 966.4,447.6 966.5,462.9 966.6,478.2 966.7,478.2 966.8,493.5 966.9,508.8 967.0,508.8 967.1,524.1 967.1,539.4 967.2,539.4 967.2,554.7 967.2,570.0 967.2,570.0 967.3,585.3 967.3,554.7 967.3,539.4 967.4,508.8 967.5,493.5 967.6,462.9 967.7,432.3 967.9,417.0 968.1,386.4 968.4,371.1 968.6,340.6 968.9,325.3 969.1,310.0 969.4,294.7 969.7,279.4 970.0,264.1 970.3,248.8 970.8,233.5 971.2,218.2 971.6,218.2 972.1,202.9 972.5,202.9 973.0,187.6 973.9,187.6 974.3,172.3 974.8,172.3 975.3,187.6 975.7,202.9 976.2,218.2 976.6,233.5 977.0,248.8 977.4,264.1 977.7,279.4 978.0,294.7 978.3,310.0 978.6,325.3 978.8,355.8 979.0,371.1 979.2,386.4 979.4,401.7 979.6,417.0 979.8,417.0 980.0,432.3 980.2,447.6 980.3,462.9 980.4,462.9 980.6,478.2 980.7,493.5 980.8,493.5 980.9,508.8 980.9,524.1 981.0,524.1 981.1,539.4 981.1,554.7 981.1,570.0 981.2,570.0 981.2,585.3 981.2,554.7 981.2,524.1 981.3,493.5 981.4,462.9 981.6,432.3 981.8,401.7 982.0,371.1 982.3,340.6 982.6,325.3 982.9,294.7 983.7,294.7 984.1,325.3 984.3,371.1 984.6,401.7 984.8,417.0 984.9,447.6 985.1,462.9 985.2,478.2 985.3,508.8 985.4,524.1 985.4,539.4 985.4,570.0 985.5,585.3 985.5,554.7 985.5,524.1 985.6,493.5 985.7,462.9 985.9,432.3 986.1,401.7 986.3,371.1 986.6,340.6 986.8,310.0 987.2,279.4 987.8,279.4 988.2,264.1 988.9,264.1 989.2,248.8 989.9,248.8 990.3,233.5 990.6,233.5 991.0,248.8 991.3,279.4 991.7,294.7 992.0,310.0 992.2,325.3 992.5,340.6 992.7,355.8 993.0,371.1 993.2,386.4 993.3,401.7 993.5,417.0 993.7,432.3 993.9,432.3 994.0,447.6 994.2,462.9 994.3,462.9 994.4,478.2 994.5,493.5 994.6,508.8 994.7,524.1 994.7,524.1 994.8,539.4 994.8,554.7 994.9,554.7 994.9,570.0 994.9,585.3 994.9,570.0 994.9,554.7 995.0,539.4 995.0,524.1 995.1,508.8 995.2,493.5 995.3,478.2 995.4,462.9 995.6,447.6 995.8,432.3 995.9,417.0 996.1,401.7 996.4,386.4 996.6,371.1 996.9,386.4 997.1,401.7 997.3,417.0 997.5,432.3 997.6,447.6 997.8,462.9 997.9,478.2 998.0,493.5 998.1,508.8 998.2,524.1 998.2,539.4 998.3,554.7 998.3,570.0 998.3,585.3 998.3,554.7 998.4,524.1 998.5,478.2 998.6,447.6 998.8,417.0 999.0,371.1 999.2,340.6 999.5,310.0 999.8,279.4 1000.2,248.8 1000.5,218.2 1000.9,187.6 1001.3,172.3 1001.8,141.7 1002.3,126.4 1002.7,111.1 1003.2,95.8 1003.6,80.5 1004.2,80.5 1004.7,65.2 1005.8,65.2 1006.4,80.5 1006.9,80.5 1007.3,95.8 1008.2,95.8 1008.7,80.5 1009.1,80.5 1009.8,65.2 1012.8,65.2 1013.3,80.5 1013.8,95.8 1016.6,95.8 1017.2,111.1 1017.8,126.4 1018.9,126.4 1019.3,141.7 1021.2,141.7 1021.8,126.4 1023.0,126.4 1023.6,111.1 1025.8,111.1 1026.4,126.4 1027.0,141.7 1027.5,157.0 1027.9,157.0 1028.4,172.3 1028.8,172.3 1029.3,187.6 1030.1,187.6 1030.5,202.9 1031.4,202.9 1031.8,218.2 1035.6,218.2 1035.9,202.9 1038.7,202.9 1039.0,187.6 1041.2,187.6 1041.8,172.3 1047.3,172.3 1047.8,157.0 1050.7,157.0 1051.2,172.3 1051.7,187.6 1052.2,202.9 1052.7,218.2 1053.1,233.5 1053.5,248.8 1053.8,279.4 1054.2,294.7 1054.5,310.0 1054.7,325.3 1055.0,340.6 1055.3,355.8 1055.5,371.1 1055.7,386.4 1056.0,401.7 1056.2,417.0 1056.4,432.3 1057.7,432.3 1057.9,447.6 1058.0,462.9 1058.3,462.9 1058.4,478.2 1058.5,493.5 1058.7,493.5 1058.8,508.8 1059.0,508.8 1059.1,524.1 1059.2,524.1 1059.3,539.4 1059.4,539.4 1059.5,554.7 1059.5,554.7 1059.6,570.0 1059.6,570.0 1059.6,585.3 1059.6,585.3 1059.6,554.7 1059.7,539.4 1059.7,508.8 1059.8,493.5 1059.9,462.9 1060.1,447.6 1060.2,417.0 1060.4,401.7 1060.6,371.1 1060.9,340.6 1061.2,325.3 1061.5,310.0 1061.8,279.4 1062.2,264.1 1062.5,233.5 1062.9,218.2 1063.2,218.2 1063.6,202.9 1072.1,202.9 1072.5,218.2 1072.8,218.2 1073.2,233.5 1073.5,248.8 1073.8,279.4 1074.1,294.7 1074.4,310.0 1074.7,325.3 1074.9,340.6 1075.2,371.1 1075.4,386.4 1075.6,401.7 1075.8,417.0 1075.9,432.3 1076.1,447.6 1076.2,462.9 1076.4,478.2 1076.5,493.5 1076.6,508.8 1076.6,524.1 1076.7,539.4 1076.7,554.7 1076.8,570.0 1076.8,585.3 1076.8,554.7 1076.8,539.4 1076.9,508.8 1077.0,493.5 1077.1,462.9 1077.2,447.6 1077.4,417.0 1077.6,401.7 1077.8,371.1 1078.1,355.8 1078.4,340.6 1078.7,310.0 1079.0,294.7 1080.4,294.7 1080.6,325.3 1080.9,371.1 1081.1,401.7 1081.3,432.3 1081.4,478.2 1081.5,508.8 1081.6,554.7 1081.6,585.3 1081.6,554.7 1081.6,524.1 1081.7,508.8 1081.8,478.2 1082.0,447.6 1082.1,417.0 1082.3,401.7 1082.5,371.1 1082.8,340.6 1083.0,325.3 1083.3,310.0 1083.6,294.7 1083.9,279.4 1084.2,264.1 1084.5,248.8 1084.8,248.8 1085.2,233.5 1085.5,218.2 1085.9,202.9 1086.3,202.9 1086.7,187.6 1087.6,187.6 1088.0,172.3 1088.9,172.3 1089.4,157.0 1094.6,157.0 1095.3,141.7 1096.4,141.7 1097.0,157.0 1101.2,157.0 1101.8,141.7 1102.5,126.4 1106.1,126.4 1106.7,111.1 1109.4,111.1 1109.9,126.4 1121.1,126.4 1121.6,141.7 1122.1,157.0 1122.6,187.6 1123.1,202.9 1123.5,202.9 1123.8,218.2 1125.9,218.2 1126.2,202.9 1127.9,202.9 1128.3,218.2 1128.6,218.2 1129.0,233.5 1129.3,248.8 1129.7,279.4 1130.0,294.7 1130.3,310.0 1130.6,325.3 1130.9,340.6 1131.1,355.8 1131.3,371.1 1131.5,386.4 1131.7,401.7 1131.9,417.0 1132.1,432.3 1132.2,447.6 1132.4,447.6 1132.5,462.9 1132.6,478.2 1132.7,493.5 1132.8,508.8 1132.9,524.1 1133.0,539.4 1133.0,539.4 1133.1,554.7 1133.1,570.0 1133.1,585.3 1133.1,554.7 1133.1,539.4 1133.2,508.8 1133.3,493.5 1133.4,462.9 1133.6,432.3 1133.8,417.0 1134.0,386.4 1134.2,371.1 1134.5,340.6 1134.7,325.3 1135.0,310.0 1135.2,294.7 1135.5,279.4 1135.8,264.1 1136.2,248.8 1136.6,248.8 1137.0,233.5 1137.4,218.2 1137.8,218.2 1138.2,202.9 1138.6,195.2 1139.1,187.6 1139.6,187.6 1140.0,202.9 1140.4,202.9 1140.8,218.2 1141.2,233.5 1141.6,264.1 1142.0,279.4 1142.3,310.0 1142.6,325.3 1142.8,340.6 1143.0,371.1 1143.3,386.4 1143.5,417.0 1143.7,432.3 1143.8,462.9 1143.9,478.2 1144.1,493.5 1144.1,524.1 1144.2,539.4 1144.2,570.0 1144.2,585.3 1144.3,554.7 1144.3,524.1 1144.4,508.8 1144.5,478.2 1144.6,447.6 1144.8,417.0 1145.0,401.7 1145.2,371.1 1145.5,340.6 1145.7,325.3 1146.0,310.0 1146.2,294.7 1146.5,279.4 1146.8,264.1 1147.2,248.8 1147.5,248.8 1147.8,233.5 1148.2,218.2 1148.6,202.9 1149.0,202.9 1149.4,187.6 1151.1,187.6 1151.5,172.3 1152.4,172.3 1152.8,157.0 1154.1,157.0 1154.6,141.7 1157.1,141.7 1157.6,126.4 1158.6,126.4 1159.1,111.1 1164.0,111.1 1164.5,126.4 1166.7,126.4 1167.4,141.7 1169.1,141.7 1169.7,157.0 1174.8,157.0 1175.3,141.7 1176.7,141.7 1177.4,126.4 1181.7,126.4 1182.2,111.1 1184.2,111.1 1184.8,126.4 1189.6,126.4 1190.1,141.7 1191.5,141.7 1192.0,157.0 1192.5,187.6 1193.0,202.9 1193.4,233.5 1193.9,248.8 1194.2,279.4 1194.6,294.7 1194.9,310.0 1195.2,340.6 1195.5,355.8 1195.7,371.1 1195.9,401.7 1196.1,417.0 1196.3,432.3 1196.4,447.6 1196.6,447.6 1196.7,462.9 1196.8,478.2 1196.9,478.2 1197.0,493.5 1197.1,508.8 1197.2,508.8 1197.3,524.1 1197.3,539.4 1197.4,539.4 1197.4,554.7 1197.4,570.0 1197.5,570.0 1197.5,585.3 1197.5,554.7 1197.5,524.1 1197.6,508.8 1197.7,478.2 1197.8,447.6 1198.0,417.0 1198.2,401.7 1198.4,371.1 1198.7,340.6 1199.0,310.0 1199.3,279.4 1199.7,248.8 1200.1,233.5 1200.5,218.2 1200.9,202.9 1204.5,202.9 1205.0,187.6 1206.9,187.6 1207.3,202.9 1207.7,202.9 1208.2,218.2 1208.6,218.2 1209.0,233.5 1209.3,248.8 1209.7,264.1 1210.0,279.4 1210.3,294.7 1210.6,310.0 1210.9,310.0 1211.2,325.3 1211.5,340.6 1211.8,340.6 1212.1,355.8 1212.3,340.6 1212.6,340.6 1212.9,325.3 1213.1,325.3 1213.4,310.0 1213.8,294.7 1214.1,294.7 1214.4,279.4 1214.8,279.4 1215.2,264.1 1215.5,248.8 1216.1,248.8 1216.5,233.5 1216.8,218.2 1217.6,218.2 1218.1,202.9 1218.5,187.6 1219.8,187.6 1220.2,172.3 1221.1,172.3 1221.5,157.0 1223.2,157.0 1223.6,141.7 1226.1,141.7 1226.7,157.0 1227.2,172.3 1227.6,187.6 1228.1,202.9 1228.5,218.2 1228.9,233.5 1229.3,248.8 1229.6,264.1 1229.9,279.4 1230.2,294.7 1230.5,310.0 1230.8,340.6 1231.1,355.8 1231.3,371.1 1231.5,386.4 1231.7,401.7 1231.9,417.0 1232.0,432.3 1232.2,447.6 1232.3,462.9 1232.4,462.9 1232.6,478.2 1232.7,478.2 1232.8,493.5 1232.9,493.5 1233.0,508.8 1233.1,508.8 1233.1,524.1 1233.3,524.1 1233.3,539.4 1233.4,539.4 1233.4,554.7 1233.5,554.7 1233.5,570.0 1233.5,570.0 1233.5,585.3 1233.5,585.3 1233.5,570.0 1233.6,539.4 1233.6,524.1 1233.7,493.5 1233.8,478.2 1234.0,462.9 1234.1,432.3 1234.3,417.0 1234.5,386.4 1234.7,371.1 1235.0,355.8 1235.2,340.6 1235.5,325.3 1235.8,310.0 1236.1,294.7 1236.4,279.4 1236.8,279.4 1237.1,264.1 1237.4,264.1 1237.8,248.8 1238.2,248.8 1238.6,233.5 1239.0,233.5 1239.4,218.2 1240.3,218.2 1240.7,202.9 1241.1,187.6 1242.5,187.6 1243.0,172.3 1243.5,172.3 1243.9,187.6 1244.6,187.6 1245.0,202.9 1245.4,218.2 1245.7,233.5 1246.1,248.8 1246.4,264.1 1246.7,279.4 1247.0,310.0 1247.3,325.3 1247.5,355.8 1247.8,371.1 1248.0,386.4 1248.2,401.7 1248.4,432.3 1248.5,447.6 1248.7,462.9 1248.8,478.2 1248.9,493.5 1249.0,508.8 1249.1,524.1 1249.1,554.7 1249.1,570.0 1249.1,585.3 1249.2,554.7 1249.2,539.4 1249.3,508.8 1249.4,493.5 1249.5,462.9 1249.6,432.3 1249.8,417.0 1250.0,386.4 1250.3,371.1 1250.5,340.6 1250.8,325.3 1251.1,310.0 1251.4,310.0 1251.7,294.7 1253.1,294.7 1253.4,310.0 1253.7,325.3 1254.0,340.6 1254.3,340.6 1254.6,355.8 1254.8,371.1 1255.0,386.4 1255.2,386.4 1255.5,401.7 1255.6,401.7 1255.8,417.0 1256.0,417.0 1256.2,432.3 1256.3,447.6 1256.5,447.6 1256.6,462.9 1256.8,462.9 1256.9,478.2 1257.0,478.2 1257.1,493.5 1257.2,493.5 1257.3,508.8 1257.4,508.8 1257.5,524.1 1257.5,524.1 1257.6,539.4 1257.6,539.4 1257.7,554.7 1257.7,554.7 1257.7,570.0 1257.7,570.0 1257.7,585.3 1257.7,585.3 1257.7,570.0 1257.8,570.0 1257.8,554.7 1257.8,554.7 1257.9,539.4 1257.9,539.4 1258.0,524.1 1258.1,524.1 1258.2,508.8 1258.3,508.8 1258.4,493.5 1258.5,493.5 1258.6,478.2 1258.7,478.2 1258.8,462.9 1259.1,462.9 1259.2,478.2 1259.4,478.2 1259.5,493.5 1259.7,493.5 1259.8,508.8 1260.0,508.8 1260.1,524.1 1260.2,524.1 1260.2,539.4 1260.3,539.4 1260.4,524.1 1260.4,508.8 1260.5,493.5 1260.6,478.2 1260.8,462.9 1260.9,432.3 1261.1,417.0 1261.3,401.7 1261.5,386.4 1261.7,371.1 1262.2,371.1 1262.4,355.8 1262.9,355.8 1263.2,340.6 1263.7,340.6 1264.0,355.8 1264.2,371.1 1264.4,401.7 1264.6,417.0 1264.8,432.3 1264.9,447.6 1265.1,462.9 1265.2,462.9 1265.3,478.2 1265.4,493.5 1265.5,508.8 1265.6,508.8 1265.6,524.1 1265.7,539.4 1265.7,554.7 1265.8,554.7 1265.8,570.0 1265.8,585.3 1265.8,554.7 1265.8,539.4 1265.9,508.8 1266.0,493.5 1266.1,462.9 1266.3,447.6 1266.4,417.0 1266.6,401.7 1266.8,371.1 1267.1,355.8 1267.3,340.6 1267.6,310.0 1267.9,294.7 1269.7,294.7 1270.0,279.4 1270.3,279.4 1270.6,264.1 1270.9,248.8 1271.3,248.8 1271.6,233.5 1272.0,218.2 1273.2,218.2 1273.7,209.0 1274.1,218.2 1274.5,218.2 1274.9,233.5 1275.2,233.5 1275.6,248.8 1275.9,248.8 1276.3,264.1 1277.3,264.1 1277.6,279.4 1278.3,279.4 1278.7,264.1 1279.1,264.1 1279.5,248.8 1279.9,248.8 1280.2,233.5 1280.5,218.2 1281.8,218.2 1282.2,202.9 1283.1,202.9 1283.5,218.2 1284.0,218.2 1284.4,233.5 1284.8,233.5 1285.2,248.8 1285.6,233.5 1286.0,233.5 1286.4,218.2 1288.1,218.2 1288.5,233.5 1288.8,248.8 1289.5,248.8 1289.8,264.1 1290.2,279.4 1290.5,279.4 1290.8,294.7 1291.1,310.0 1291.3,340.6 1291.5,355.8 1291.8,371.1 1292.0,371.1 1292.2,386.4 1292.4,401.7 1292.6,386.4 1292.8,371.1 1293.0,340.6 1293.3,325.3 1293.5,340.6 1293.7,371.1 1293.9,386.4 1294.1,401.7 1294.3,386.4 1294.5,371.1 1294.7,340.6 1295.0,325.3 1295.2,340.6 1295.4,371.1 1295.7,386.4 1295.8,401.7 1296.0,386.4 1296.2,371.1 1296.5,340.6 1296.7,325.3 1296.9,340.6 1297.2,371.1 1297.4,386.4 1297.6,401.7 1297.8,386.4 1298.0,371.1 1298.3,355.8 1298.6,340.6 1298.8,325.3 1299.1,294.7 1299.4,279.4 1299.8,264.1 1300.2,264.1 1300.6,248.8 1301.1,264.1 1301.5,264.1 1301.8,279.4 1302.1,294.7 1302.4,310.0 1302.7,310.0 1303.0,325.3 1303.2,340.6 1303.5,355.8 1303.7,355.8 1304.0,371.1 1304.2,386.4 1304.4,386.4 1304.6,401.7 1304.8,401.7 1305.0,417.0 1305.1,417.0 1305.3,432.3 1305.5,432.3 1305.6,447.6 1305.9,447.6 1306.1,432.3 1306.3,432.3 1306.4,417.0 1306.6,417.0 1306.8,401.7 1307.2,401.7 1307.4,386.4 1307.9,386.4 1308.1,371.1 1308.4,371.1 1308.6,386.4 1308.8,401.7 1309.0,401.7 1309.1,417.0 1309.3,432.3 1309.5,432.3 1309.6,447.6 1309.7,462.9 1309.9,462.9 1310.0,478.2 1310.1,478.2 1310.2,493.5 1310.3,493.5 1310.4,508.8 1310.5,508.8 1310.6,524.1 1310.7,524.1 1310.8,539.4 1310.8,539.4 1310.9,554.7 1310.9,554.7 1310.9,570.0 1310.9,570.0 1310.9,585.3 1310.9,585.3 1311.0,570.0 1311.0,539.4 1311.1,524.1 1311.1,493.5 1311.2,478.2 1311.4,462.9 1311.5,432.3 1311.7,417.0 1311.9,386.4 1312.1,371.1 1312.4,355.8 1312.6,340.6 1312.9,325.3 1313.2,310.0 1313.5,310.0 1313.8,294.7 1314.1,279.4 1314.7,279.4 1315.0,294.7 1315.3,310.0 1315.6,310.0 1315.9,325.3 1316.2,340.6 1316.4,340.6 1316.7,355.8 1317.0,371.1 1317.2,386.4 1317.4,401.7 1317.6,401.7 1317.7,417.0 1317.9,432.3 1318.1,432.3 1318.2,447.6 1318.3,462.9 1318.5,462.9 1318.6,478.2 1318.7,478.2 1318.8,493.5 1318.9,493.5 1319.0,508.8 1319.1,508.8 1319.2,524.1 1319.3,524.1 1319.3,539.4 1319.4,539.4 1319.4,554.7 1319.5,554.7 1319.5,570.0 1319.5,570.0 1319.5,585.3 1319.5,585.3 1319.5,570.0 1319.6,539.4 1319.6,524.1 1319.7,493.5 1319.8,478.2 1320.0,462.9 1320.1,432.3 1320.3,417.0 1320.5,386.4 1320.7,371.1 1321.0,355.8 1321.2,340.6 1321.5,325.3 1321.8,310.0 1322.1,294.7 1322.4,279.4 1323.1,279.4 1323.5,264.1 1323.8,264.1 1324.2,248.8 1326.2,248.8 1326.6,233.5 1328.1,233.5 1328.5,310.0 1328.8,371.1 1329.0,401.7 1329.2,417.0 1329.4,447.6 1329.5,462.9 1329.6,493.5 1329.7,508.8 1329.8,539.4 1329.8,554.7 1329.8,585.3 1329.8,570.0 1329.9,539.4 1329.9,524.1 1330.0,508.8 1330.1,478.2 1330.2,462.9 1330.3,447.6 1330.5,417.0 1330.7,401.7 1330.9,371.1 1331.2,355.8 1331.4,340.6 1331.7,310.0 1332.0,294.7 1332.3,294.7 1332.6,279.4 1332.9,325.3 1333.2,355.8 1333.4,401.7 1333.6,432.3 1333.8,447.6 1333.9,478.2 1334.0,508.8 1334.1,539.4 1334.1,554.7 1334.1,585.3 1334.1,554.7 1334.2,539.4 1334.2,508.8 1334.3,493.5 1334.4,462.9 1334.6,447.6 1334.7,417.0 1334.9,401.7 1335.2,371.1 1335.4,355.8 1335.7,340.6 1336.0,310.0 1336.4,294.7 1336.6,279.4 1337.2,279.4 1337.6,264.1 1337.9,264.1 1338.2,248.8 1343.1,248.8 1343.6,264.1 1345.5,264.1 1345.7,279.4 1346.0,279.4 1346.3,294.7 1346.6,294.7 1346.9,310.0 1348.9,310.0 1349.2,325.3 1349.5,355.8 1349.7,371.1 1349.9,401.7 1350.1,417.0 1350.3,432.3 1350.4,462.9 1350.6,478.2 1350.7,478.2 1350.8,493.5 1350.9,493.5 1351.0,508.8 1351.0,524.1 1351.1,524.1 1351.2,539.4 1351.2,554.7 1351.2,554.7 1351.3,570.0 1351.3,570.0 1351.3,585.3 1351.3,570.0 1351.3,554.7 1351.4,524.1 1351.5,508.8 1351.5,493.5 1351.7,478.2 1351.8,462.9 1351.9,432.3 1352.1,417.0 1352.3,401.7 1352.5,386.4 1352.8,371.1 1353.1,340.6 1353.3,325.3 1353.6,325.3 1353.9,310.0 1354.2,310.0 1354.5,340.6 1354.8,371.1 1355.1,401.7 1355.3,417.0 1355.4,432.3 1355.6,447.6 1355.7,447.6 1355.9,462.9 1356.0,478.2 1356.1,493.5 1356.2,508.8 1356.3,524.1 1356.3,539.4 1356.4,539.4 1356.4,554.7 1356.4,570.0 1356.4,585.3 1356.4,570.0 1356.5,570.0 1356.5,554.7 1356.5,554.7 1356.6,539.4 1356.6,524.1 1356.7,524.1 1356.8,508.8 1356.8,493.5 1356.9,493.5 1357.1,478.2 1357.2,478.2 1357.3,462.9 1357.4,462.9 1357.5,478.2 1357.6,478.2 1357.7,493.5 1357.8,493.5 1357.9,508.8 1358.0,508.8 1358.1,524.1 1358.2,524.1 1358.2,508.8 1358.3,478.2 1358.5,462.9 1358.6,432.3 1358.8,417.0 1359.0,386.4 1359.2,371.1 1359.4,355.8 1359.7,340.6 1359.9,310.0 1360.2,294.7 1360.5,279.4 1360.9,264.1 1361.2,248.8 1361.6,248.8 1362.0,233.5 1362.4,233.5 1362.9,248.8 1363.3,264.1 1363.6,264.1 1363.9,279.4 1364.8,279.4 1365.1,264.1 1365.4,264.1 1365.7,248.8 1366.0,248.8 1366.4,233.5 1366.7,218.2 1367.6,218.2 1368.0,202.9 1370.6,202.9 1371.1,187.6 1372.4,187.6 1372.8,172.3 1377.6,172.3 1378.1,179.9 1378.6,187.6 1379.6,187.6 1380.0,202.9 1382.2,202.9 1382.7,187.6 1386.1,187.6 1386.7,202.9 1388.7,202.9 1389.1,218.2 1389.4,218.2 1389.7,233.5 1390.1,248.8 1390.4,264.1 1390.8,279.4 1391.1,294.7 1391.5,325.3 1391.8,340.6 1392.1,355.8 1392.3,386.4 1392.5,401.7 1392.7,417.0 1392.9,447.6 1393.0,462.9 1393.1,462.9 1393.3,478.2 1393.4,478.2 1393.5,493.5 1393.6,493.5 1393.7,508.8 1393.8,508.8 1393.8,524.1 1394.0,524.1 1394.0,539.4 1394.1,539.4 1394.1,554.7 1394.1,554.7 1394.2,570.0 1394.2,570.0 1394.2,585.3 1394.2,585.3 1394.2,570.0 1394.2,554.7 1394.3,539.4 1394.3,524.1 1394.4,508.8 1394.5,493.5 1394.6,478.2 1394.7,478.2 1394.8,462.9 1395.0,447.6 1395.1,432.3 1395.3,417.0 1395.5,401.7 1395.7,386.4 1395.9,371.1 1398.0,371.1 1398.2,386.4 1398.4,386.4 1398.6,401.7 1398.8,417.0 1399.0,432.3 1399.2,432.3 1399.3,447.6 1399.5,462.9 1399.6,462.9 1399.7,478.2 1399.8,493.5 1399.9,493.5 1400.0,508.8 1400.1,524.1 1400.1,539.4 1400.2,539.4 1400.2,554.7 1400.3,524.1 1400.3,493.5 1400.4,462.9 1400.6,432.3 1400.7,417.0 1400.9,386.4 1401.2,355.8 1401.4,325.3 1404.2,325.3 1404.5,340.6 1405.4,340.6 1405.6,355.8 1405.8,371.1 1406.0,386.4 1406.2,401.7 1406.4,417.0 1406.6,432.3 1406.7,447.6 1406.9,447.6 1407.0,462.9 1407.1,462.9 1407.3,478.2 1407.4,493.5 1407.5,493.5 1407.6,508.8 1407.6,508.8 1407.7,524.1 1407.8,524.1 1407.8,539.4 1407.9,554.7 1407.9,554.7 1407.9,570.0 1407.9,570.0 1407.9,585.3 1407.9,570.0 1408.0,570.0 1408.0,554.7 1408.0,539.4 1408.1,524.1 1408.2,524.1 1408.2,508.8 1408.3,493.5 1408.4,493.5 1408.5,478.2 1408.7,462.9 1408.8,462.9 1408.9,447.6 1409.1,432.3 1409.3,417.0 1409.5,417.0 1409.7,401.7 1409.9,386.4 1410.1,386.4 1410.3,371.1 1410.6,371.1 1410.8,355.8 1411.1,355.8 1411.4,340.6 1413.1,340.6 1413.4,355.8 1413.6,371.1 1413.9,386.4 1414.1,401.7 1414.3,417.0 1414.5,432.3 1414.6,447.6 1414.8,447.6 1414.9,462.9 1415.0,478.2 1415.1,478.2 1415.2,493.5 1415.3,508.8 1415.4,508.8 1415.5,524.1 1415.5,539.4 1415.6,539.4 1415.6,554.7 1415.6,570.0 1415.7,570.0 1415.7,585.3 1415.7,554.7 1415.7,524.1 1415.8,508.8 1415.9,478.2 1416.0,447.6 1416.2,417.0 1416.4,401.7 1416.6,371.1 1416.9,340.6 1417.2,325.3 1417.5,294.7 1417.9,279.4 1422.4,279.4 1422.7,294.7 1424.2,294.7 1424.5,279.4 1425.1,279.4 1425.5,264.1 1425.8,264.1 1426.1,248.8 1428.2,248.8 1428.5,241.1 1428.9,248.8 1429.2,248.8 1429.6,264.1 1431.3,264.1 1431.6,248.8 1432.7,248.8 1433.0,233.5 1436.3,233.5 1436.5,279.4 1436.8,340.6 1437.0,386.4 1437.2,432.3 1437.4,493.5 1437.4,539.4 1437.5,585.3 1437.5,570.0 1437.5,554.7 1437.5,554.7 1437.6,539.4 1437.6,524.1 1437.7,508.8 1437.8,508.8 1437.9,493.5 1438.0,478.2 1438.1,462.9 1438.2,462.9 1438.3,447.6 1438.5,432.3 1438.7,417.0 1438.9,401.7 1439.1,401.7 1439.3,386.4 1439.5,371.1 1439.7,386.4 1439.9,401.7 1440.1,417.0 1440.3,432.3 1440.4,447.6 1440.6,462.9 1440.7,462.9 1440.8,478.2 1440.9,493.5 1441.1,493.5 1441.2,508.8 1441.3,524.1 1441.4,524.1 1441.4,539.4 1441.5,554.7 1441.6,554.7 1441.6,570.0 1441.6,585.3 1441.6,585.3 1441.6,570.0 1441.6,554.7 1441.6,554.7 1441.7,539.4 1441.7,524.1 1441.8,508.8 1441.9,508.8 1442.0,493.5 1442.1,478.2 1442.2,462.9 1442.3,462.9 1442.5,447.6 1442.6,432.3 1442.8,417.0 1443.0,401.7 1443.2,386.4 1443.5,371.1 1443.7,386.4 1443.9,401.7 1444.0,432.3 1444.2,447.6 1444.3,462.9 1444.5,462.9 1444.6,478.2 1444.7,493.5 1444.9,493.5 1445.0,508.8 1445.0,524.1 1445.2,524.1 1445.2,539.4 1445.3,554.7 1445.3,554.7 1445.3,570.0 1445.4,585.3 1445.4,585.3 1445.4,554.7 1445.4,508.8 1445.5,478.2 1445.6,447.6 1445.8,417.0 1446.0,371.1 1446.2,340.6 1446.5,310.0 1446.8,279.4 1447.1,248.8 1447.5,233.5 1447.9,210.5 1448.3,202.9 1448.6,202.9 1449.1,218.2 1449.6,218.2 1450.0,233.5 1450.4,248.8 1450.8,279.4 1451.2,294.7 1451.5,310.0 1451.7,340.6 1452.0,355.8 1452.2,386.4 1452.4,401.7 1452.6,417.0 1452.8,432.3 1452.9,462.9 1453.1,478.2 1453.2,493.5 1453.3,508.8 1453.3,524.1 1453.4,554.7 1453.4,570.0 1453.4,585.3 1453.4,570.0 1453.5,539.4 1453.5,524.1 1453.6,493.5 1453.7,478.2 1453.9,462.9 1454.0,432.3 1454.2,417.0 1454.4,386.4 1454.6,371.1 1454.9,355.8 1455.1,340.6 1455.4,325.3 1455.7,310.0 1456.0,310.0 1456.3,294.7 1456.6,279.4 1456.9,279.4 1457.2,294.7 1457.5,310.0 1457.8,310.0 1458.1,325.3 1458.4,340.6 1458.6,340.6 1458.9,355.8 1459.2,355.8 1459.4,371.1 1459.7,386.4 1459.9,386.4 1460.1,401.7 1460.2,401.7 1460.4,417.0 1460.6,432.3 1460.7,432.3 1460.9,447.6 1461.0,447.6 1461.2,462.9 1461.3,447.6 1461.4,432.3 1461.6,432.3 1461.8,417.0 1461.9,401.7 1462.1,401.7 1462.3,386.4 1462.5,371.1 1462.8,355.8 1463.0,355.8 1463.3,340.6 1463.6,340.6 1463.9,325.3 1464.2,325.3 1464.5,310.0 1464.8,310.0 1465.1,294.7 1465.5,294.7 1465.7,310.0 1466.0,340.6 1466.2,355.8 1466.5,386.4 1466.7,401.7 1466.9,417.0 1467.0,417.0 1467.2,432.3 1467.4,447.6 1467.5,447.6 1467.7,462.9 1467.8,478.2 1467.9,478.2 1468.0,493.5 1468.3,493.5 1468.4,478.2 1469.2,478.2 1469.4,462.9 1470.7,462.9 1470.8,447.6 1471.8,447.6 1472.0,417.0 1472.2,401.7 1472.4,371.1 1472.7,340.6 1472.9,310.0 1473.2,294.7 1473.5,264.1 1477.8,264.1 1478.1,279.4 1478.7,279.4 1479.0,294.7 1479.4,325.3 1479.7,340.6 1479.9,355.8 1480.2,371.1 1480.4,401.7 1480.6,417.0 1480.7,432.3 1480.9,447.6 1481.0,462.9 1481.2,462.9 1481.3,478.2 1481.4,493.5 1481.5,508.8 1481.5,508.8 1481.6,524.1 1481.7,539.4 1481.7,554.7 1481.7,554.7 1481.8,570.0 1481.8,585.3 1481.8,554.7 1481.8,524.1 1481.9,508.8 1482.0,478.2 1482.1,447.6 1482.3,417.0 1482.5,401.7 1482.7,371.1 1483.0,340.6 1483.2,325.3 1483.5,310.0 1483.8,279.4 1484.2,264.1 1484.5,248.8 1484.8,248.8 1485.2,233.5 1485.5,218.2 1486.0,218.2 1486.4,202.9 1486.9,202.9 1487.4,187.6 1490.7,187.6 1491.0,202.9 1492.1,202.9 1492.4,187.6 1495.5,187.6 1495.8,202.9 1496.2,218.2 1496.6,248.8 1497.0,279.4 1497.4,325.3 1497.7,355.8 1497.9,401.7 1498.1,417.0 1498.3,432.3 1498.4,462.9 1498.6,478.2 1498.7,493.5 1498.8,508.8 1498.8,524.1 1498.9,554.7 1498.9,570.0 1498.9,585.3 1498.9,554.7 1499.0,539.4 1499.0,508.8 1499.1,493.5 1499.2,462.9 1499.4,447.6 1499.6,417.0 1499.7,401.7 1500.0,371.1 1500.2,340.6 1500.4,325.3 1500.7,310.0 1501.0,279.4 1501.3,264.1 1501.7,248.8 1502.0,233.5 1503.7,233.5 1504.1,218.2 1506.8,218.2 1507.2,233.5 1507.5,233.5 1507.9,248.8 1508.2,248.8 1508.5,264.1 1509.2,264.1 1509.6,279.4 1511.6,279.4 1511.9,294.7 1512.2,325.3 1512.5,340.6 1512.7,371.1 1513.0,386.4 1513.2,401.7 1513.3,432.3 1513.5,447.6 1513.6,462.9 1513.8,462.9 1513.9,478.2 1514.0,493.5 1514.1,508.8 1514.2,508.8 1514.2,524.1 1514.3,539.4 1514.3,554.7 1514.4,554.7 1514.4,570.0 1514.4,585.3 1514.4,554.7 1514.4,539.4 1514.5,508.8 1514.6,493.5 1514.7,462.9 1514.9,447.6 1515.0,417.0 1515.2,401.7 1515.5,371.1 1515.7,371.1 1515.9,355.8 1516.2,355.8 1516.4,340.6 1516.7,340.6 1516.9,325.3 1517.7,325.3 1518.0,310.0 1519.9,310.0 1520.2,325.3 1520.5,340.6 1520.7,340.6 1521.0,355.8 1521.2,340.6 1521.5,340.6 1521.8,325.3 1522.0,325.3 1522.3,310.0 1522.7,310.0 1523.0,294.7 1523.3,279.4 1526.4,279.4 1526.8,264.1 1527.5,264.1 1527.8,248.8 1529.2,248.8 1529.5,241.1 1529.9,248.8 1530.2,248.8 1530.6,264.1 1530.9,279.4 1531.3,310.0 1531.6,325.3 1531.8,340.6 1532.1,371.1 1532.3,386.4 1532.5,417.0 1532.6,432.3 1532.8,447.6 1532.9,447.6 1533.1,462.9 1533.2,478.2 1533.3,478.2 1533.4,493.5 1533.5,508.8 1533.6,508.8 1533.6,524.1 1533.7,539.4 1533.7,539.4 1533.8,554.7 1533.8,570.0 1533.8,570.0 1533.8,585.3 1533.8,570.0 1533.9,570.0 1533.9,554.7 1533.9,554.7 1534.0,539.4 1534.0,524.1 1534.1,524.1 1534.2,508.8 1534.2,493.5 1534.3,493.5 1534.4,478.2 1534.6,478.2 1534.7,462.9 1534.8,478.2 1534.9,478.2 1535.0,493.5 1535.1,493.5 1535.2,508.8 1535.3,524.1 1535.4,524.1 1535.4,539.4 1535.5,554.7 1535.5,554.7 1535.5,570.0 1535.5,570.0 1535.5,585.3 1535.6,570.0 1535.6,539.4 1535.7,524.1 1535.7,493.5 1535.8,478.2 1536.0,462.9 1536.1,432.3 1536.3,417.0 1536.5,386.4 1536.8,371.1 1537.0,355.8 1537.3,340.6 1537.5,325.3 1537.8,310.0 1538.1,294.7 1538.5,279.4 1538.8,279.4 1539.1,264.1 1539.5,256.4 1539.9,264.1 1540.2,279.4 1540.5,279.4 1540.9,294.7 1541.2,310.0 1541.5,325.3 1541.7,325.3 1542.0,340.6 1542.2,355.8 1542.5,371.1 1542.7,386.4 1542.9,401.7 1543.1,417.0 1543.3,432.3 1543.5,447.6 1543.6,462.9 1543.7,462.9 1543.9,478.2 1544.0,478.2 1544.1,493.5 1544.3,493.5 1544.4,508.8 1544.5,508.8 1544.6,524.1 1544.7,524.1 1544.7,539.4 1544.8,539.4 1544.9,554.7 1544.9,554.7 1545.0,570.0 1545.0,570.0 1545.0,585.3 1545.0,585.3 1545.0,554.7 1545.1,524.1 1545.1,493.5 1545.2,462.9 1545.4,432.3 1545.6,401.7 1545.8,371.1 1546.0,340.6 1546.3,310.0 1546.7,294.7 1547.1,264.1 1547.4,248.8 1547.7,248.8 1548.1,233.5 1548.4,218.2 1549.8,218.2 1550.1,233.5 1552.5,233.5 1552.9,218.2 1554.4,218.2 1554.9,202.9 1557.0,202.9 1557.4,218.2 1557.7,218.2 1558.0,233.5 1558.4,233.5 1558.7,248.8 1559.1,264.1 1559.4,279.4 1559.8,279.4 1560.1,294.7 1560.4,310.0 1560.7,340.6 1561.0,355.8 1561.3,371.1 1561.5,386.4 1561.7,401.7 1561.9,417.0 1562.1,432.3 1562.2,447.6 1562.4,462.9 1562.5,478.2 1562.6,478.2 1562.7,493.5 1562.8,493.5 1562.9,508.8 1563.1,508.8 1563.1,524.1 1563.3,524.1 1563.3,539.4 1563.4,539.4 1563.4,554.7 1563.5,554.7 1563.5,570.0 1563.5,570.0 1563.5,585.3 1563.5,585.3 1563.5,570.0 1563.6,554.7 1563.6,524.1 1563.7,508.8 1563.8,493.5 1563.9,478.2 1564.0,462.9 1564.1,447.6 1564.3,432.3 1564.5,401.7 1564.7,386.4 1564.9,371.1 1565.1,355.8 1565.4,340.6 1565.7,325.3 1566.0,310.0 1566.3,294.7 1566.6,279.4 1566.9,279.4 1567.3,264.1 1567.7,248.8 1568.0,248.8 1568.3,233.5 1568.7,233.5 1569.1,248.8 1569.5,264.1 1569.9,279.4 1570.2,294.7 1570.5,310.0 1570.8,325.3 1571.1,340.6 1571.4,355.8 1571.6,371.1 1571.9,386.4 1572.1,401.7 1572.3,417.0 1572.5,432.3 1572.6,447.6 1572.8,447.6 1572.9,462.9 1573.0,478.2 1573.1,478.2 1573.2,493.5 1573.3,508.8 1573.4,508.8 1573.5,524.1 1573.5,539.4 1573.6,539.4 1573.6,554.7 1573.6,570.0 1573.7,570.0 1573.7,585.3 1573.7,570.0 1573.7,554.7 1573.7,554.7 1573.8,539.4 1573.8,524.1 1573.9,508.8 1574.0,508.8 1574.1,493.5 1574.2,478.2 1574.3,462.9 1574.4,462.9 1574.5,447.6 1574.7,432.3 1574.9,432.3 1575.1,417.0 1575.3,401.7 1575.7,401.7 1575.9,386.4 1577.3,386.4 1577.5,401.7 1577.7,432.3 1577.8,447.6 1578.0,462.9 1578.1,462.9 1578.2,478.2 1578.3,493.5 1578.5,493.5 1578.6,508.8 1578.7,524.1 1578.8,524.1 1578.8,539.4 1578.9,554.7 1578.9,554.7 1579.0,570.0 1579.0,585.3 1579.0,585.3"/>
<text class="t" transform="translate(109.5 598.1) scale(0.975 1)" text-anchor="end">0</text>
<text class="t" transform="translate(109.5 503.0) scale(0.975 1)" text-anchor="end">10</text>
<text class="t" transform="translate(109.5 408.0) scale(0.975 1)" text-anchor="end">20</text>
<text class="t" transform="translate(109.5 312.9) scale(0.975 1)" text-anchor="end">30</text>
<text class="t" transform="translate(109.5 217.9) scale(0.975 1)" text-anchor="end">40</text>
<text class="t" transform="translate(109.5 122.8) scale(0.975 1)" text-anchor="end">50</text>
<text class="t" transform="translate(109.5 27.8) scale(0.975 1)" text-anchor="end">60</text>
<text class="t" transform="translate(141.2 642.8) scale(0.975 1)" text-anchor="middle">0</text>
<text class="t" transform="translate(324.8 642.8) scale(0.975 1)" text-anchor="middle">5</text>
<text class="t" transform="translate(508.4 642.8) scale(0.975 1)" text-anchor="middle">10</text>
<text class="t" transform="translate(692.0 642.8) scale(0.975 1)" text-anchor="middle">15</text>
<text class="t" transform="translate(875.6 642.8) scale(0.975 1)" text-anchor="middle">20</text>
<text class="t" transform="translate(1059.2 642.8) scale(0.975 1)" text-anchor="middle">25</text>
<text class="t" transform="translate(1242.8 642.8) scale(0.975 1)" text-anchor="middle">30</text>
<text class="t" transform="translate(1426.4 642.8) scale(0.975 1)" text-anchor="middle">35</text>
<text class="t" transform="translate(1610.0 642.8) scale(0.975 1)" text-anchor="middle">40</text>
<text class="b" x="1331.0" y="699.0">Duration [km]</text>
<text class="b" transform="translate(28.4 325.6) rotate(-90)" text-anchor="middle">V [km/h]</text>
</g>
<text class="s" y="785.6"><tspan x="-2.5">(</tspan><tspan x="17" dy="3.2" font-size="64">a</tspan><tspan x="47.5" dy="-3.2">)</tspan></text>
<g id="chart-b">
<line x1="134.4" y1="1392.53" x2="1600.6" y2="1392.53" stroke="#231f20" stroke-width="2.4"/>
<line x1="134.4" y1="1311.05" x2="1600.6" y2="1311.05" stroke="#231f20" stroke-width="2.4"/>
<line x1="134.4" y1="1229.58" x2="1600.6" y2="1229.58" stroke="#231f20" stroke-width="2.4"/>
<line x1="134.4" y1="1148.10" x2="1600.6" y2="1148.10" stroke="#231f20" stroke-width="2.4"/>
<line x1="134.4" y1="1066.62" x2="1600.6" y2="1066.62" stroke="#231f20" stroke-width="2.4"/>
<line x1="134.4" y1="985.15" x2="1600.6" y2="985.15" stroke="#231f20" stroke-width="2.4"/>
<rect x="134.4" y="904.10" width="1466.2" height="569.85" fill="none" stroke="#231f20" stroke-width="4.2" stroke-linejoin="round"/>
<line x1="134.4" y1="1473.95" x2="1600.6" y2="1473.95" stroke="#9c9c9c" stroke-width="1.7"/>
<line x1="134.4" y1="1476.0" x2="134.4" y2="1485.5" stroke="#8c8c8c" stroke-width="1.7"/>
<line x1="317.7" y1="1476.0" x2="317.7" y2="1485.5" stroke="#8c8c8c" stroke-width="1.7"/>
<line x1="501.0" y1="1476.0" x2="501.0" y2="1485.5" stroke="#8c8c8c" stroke-width="1.7"/>
<line x1="684.4" y1="1476.0" x2="684.4" y2="1485.5" stroke="#8c8c8c" stroke-width="1.7"/>
<line x1="867.7" y1="1476.0" x2="867.7" y2="1485.5" stroke="#8c8c8c" stroke-width="1.7"/>
<line x1="1051.0" y1="1476.0" x2="1051.0" y2="1485.5" stroke="#8c8c8c" stroke-width="1.7"/>
<line x1="1234.3" y1="1476.0" x2="1234.3" y2="1485.5" stroke="#8c8c8c" stroke-width="1.7"/>
<line x1="1417.6" y1="1476.0" x2="1417.6" y2="1485.5" stroke="#8c8c8c" stroke-width="1.7"/>
<line x1="1601.0" y1="1476.0" x2="1601.0" y2="1485.5" stroke="#8c8c8c" stroke-width="1.7"/>
<polyline fill="none" stroke="#4a7ebb" stroke-width="4.1" stroke-linejoin="round" stroke-linecap="round" points="135.8,1474.0 135.9,1421.6 136.0,1382.2 136.1,1342.9 136.4,1290.4 136.6,1277.3 136.9,1251.1 137.2,1238.0 137.5,1238.0 137.9,1224.9 138.2,1211.8 139.3,1211.8 139.6,1198.6 140.0,1198.6 140.2,1238.0 140.5,1277.3 140.6,1316.7 140.8,1342.9 141.0,1356.0 141.1,1369.1 141.2,1395.3 141.3,1421.6 141.3,1434.7 141.4,1421.6 141.5,1408.4 141.6,1395.3 141.7,1369.1 141.8,1356.0 142.0,1342.9 142.2,1329.8 142.4,1316.7 142.5,1329.8 142.7,1342.9 142.9,1356.0 143.0,1356.0 143.2,1369.1 143.3,1382.2 143.4,1395.3 143.5,1408.4 143.6,1421.6 143.6,1434.7 143.7,1434.7 143.7,1447.8 143.7,1460.9 143.7,1474.0 143.8,1447.8 143.8,1421.6 143.9,1395.3 144.0,1369.1 144.1,1342.9 144.3,1316.7 144.5,1290.4 144.8,1264.2 145.1,1238.0 145.4,1211.8 145.8,1185.5 146.1,1172.4 146.5,1159.3 148.5,1159.3 148.9,1146.2 149.2,1146.2 149.6,1133.1 152.5,1133.1 153.0,1146.2 153.4,1146.2 153.7,1159.3 154.0,1159.3 154.4,1172.4 154.8,1185.5 155.1,1198.6 155.4,1211.8 155.7,1238.0 156.0,1264.2 156.2,1290.4 156.4,1316.7 156.6,1329.8 156.8,1342.9 157.0,1369.1 157.1,1382.2 157.2,1395.3 157.3,1408.4 157.4,1421.6 157.4,1447.8 157.5,1460.9 157.5,1474.0 157.5,1447.8 157.5,1434.7 157.6,1408.4 157.7,1395.3 157.8,1369.1 158.0,1342.9 158.1,1329.8 158.3,1303.5 158.6,1290.4 158.8,1264.2 159.1,1238.0 159.5,1224.9 159.8,1211.8 160.2,1185.5 160.6,1159.3 161.1,1146.2 161.6,1120.0 162.0,1106.9 162.5,1093.7 163.0,1080.6 165.7,1080.6 166.2,1093.7 166.7,1106.9 167.2,1120.0 167.7,1133.1 168.1,1146.2 168.5,1159.3 168.8,1185.5 169.2,1198.6 169.5,1211.8 169.8,1238.0 170.1,1251.1 170.4,1277.3 170.6,1290.4 170.9,1316.7 171.1,1329.8 171.2,1342.9 171.4,1356.0 171.5,1369.1 171.7,1382.2 171.8,1395.3 171.9,1408.4 171.9,1421.6 172.0,1434.7 172.0,1447.8 172.1,1460.9 172.1,1474.0 172.1,1460.9 172.1,1434.7 172.2,1421.6 172.2,1408.4 172.3,1382.2 172.4,1369.1 172.6,1356.0 172.7,1329.8 172.9,1316.7 173.1,1303.5 173.3,1290.4 173.5,1277.3 173.8,1264.2 174.0,1277.3 174.2,1290.4 174.4,1303.5 174.6,1316.7 174.8,1329.8 175.0,1356.0 175.1,1369.1 175.2,1382.2 175.3,1408.4 175.4,1421.6 175.5,1434.7 175.5,1460.9 175.5,1474.0 175.5,1447.8 175.6,1421.6 175.6,1408.4 175.7,1382.2 175.9,1356.0 176.0,1329.8 176.2,1316.7 176.4,1290.4 176.7,1264.2 177.0,1238.0 177.3,1211.8 177.7,1198.6 178.1,1172.4 178.4,1159.3 178.7,1146.2 179.1,1133.1 179.6,1120.0 180.1,1112.1 180.5,1120.0 181.3,1120.0 181.7,1185.5 182.0,1238.0 182.3,1290.4 182.5,1329.8 182.6,1382.2 182.7,1421.6 182.7,1474.0 182.7,1460.9 182.7,1447.8 182.8,1421.6 182.9,1408.4 183.0,1395.3 183.1,1369.1 183.2,1356.0 183.4,1342.9 183.6,1329.8 183.8,1303.5 184.1,1290.4 184.3,1316.7 184.5,1329.8 184.6,1342.9 184.8,1369.1 184.9,1382.2 185.0,1395.3 185.1,1395.3 185.2,1408.4 185.3,1421.6 185.3,1434.7 185.4,1447.8 185.4,1447.8 185.4,1460.9 185.5,1474.0 185.5,1447.8 185.5,1408.4 185.6,1382.2 185.8,1356.0 185.9,1316.7 186.1,1290.4 186.4,1251.1 186.7,1224.9 187.0,1185.5 189.7,1185.5 190.1,1172.4 190.4,1172.4 190.8,1159.3 192.5,1159.3 192.8,1172.4 193.2,1172.4 193.5,1185.5 193.9,1198.6 194.2,1211.8 194.5,1224.9 194.8,1238.0 195.1,1251.1 195.3,1264.2 195.6,1277.3 195.8,1290.4 196.1,1290.4 196.3,1303.5 196.5,1316.7 196.8,1316.7 197.0,1329.8 197.1,1329.8 197.3,1316.7 197.7,1316.7 197.9,1303.5 198.8,1303.5 199.0,1316.7 199.5,1316.7 199.7,1303.5 200.0,1290.4 200.2,1290.4 200.5,1277.3 200.7,1264.2 201.0,1251.1 201.2,1238.0 201.5,1238.0 201.8,1224.9 202.1,1211.8 202.4,1198.6 202.8,1185.5 203.1,1185.5 203.5,1172.4 203.9,1172.4 204.3,1159.3 205.1,1159.3 205.5,1172.4 205.9,1198.6 206.3,1211.8 206.6,1238.0 206.8,1264.2 207.1,1290.4 207.3,1316.7 207.4,1342.9 207.6,1356.0 207.7,1369.1 207.8,1395.3 207.9,1408.4 208.0,1421.6 208.1,1447.8 208.1,1460.9 208.1,1474.0 208.1,1447.8 208.2,1421.6 208.2,1408.4 208.3,1382.2 208.5,1356.0 208.6,1329.8 208.8,1316.7 209.1,1290.4 209.3,1264.2 209.6,1238.0 209.9,1211.8 210.3,1198.6 210.7,1172.4 211.1,1146.2 211.6,1133.1 212.1,1106.9 212.5,1093.7 213.0,1080.6 213.4,1067.5 213.9,1054.4 214.3,1054.4 214.8,1041.3 216.9,1041.3 217.4,1054.4 217.9,1067.5 218.4,1080.6 218.9,1106.9 219.5,1133.1 220.0,1159.3 220.3,1185.5 220.7,1211.8 221.0,1238.0 221.2,1264.2 221.5,1290.4 221.7,1316.7 221.8,1342.9 222.0,1356.0 222.2,1369.1 222.3,1382.2 222.4,1395.3 222.5,1408.4 222.6,1421.6 222.6,1434.7 222.7,1447.8 222.7,1460.9 222.7,1474.0 222.7,1447.8 222.8,1421.6 222.8,1395.3 223.0,1369.1 223.1,1342.9 223.3,1316.7 223.5,1290.4 223.7,1264.2 224.0,1238.0 224.4,1211.8 224.8,1185.5 225.1,1172.4 225.4,1146.2 225.8,1133.1 226.3,1120.0 226.8,1106.9 227.3,1093.7 227.9,1087.2 228.4,1080.6 230.9,1080.6 231.3,1067.5 233.0,1067.5 233.7,1093.7 234.0,1106.9 234.4,1133.1 234.7,1172.4 235.1,1211.8 235.3,1251.1 235.6,1277.3 235.8,1316.7 235.9,1342.9 236.1,1356.0 236.2,1382.2 236.3,1408.4 236.4,1434.7 236.4,1447.8 236.4,1474.0 236.5,1447.8 236.5,1421.6 236.6,1395.3 236.7,1369.1 236.9,1342.9 237.1,1316.7 237.3,1290.4 237.6,1264.2 237.8,1251.1 238.2,1224.9 239.5,1224.9 239.8,1251.1 240.1,1264.2 240.3,1290.4 240.6,1316.7 240.8,1329.8 240.9,1342.9 241.1,1369.1 241.2,1382.2 241.3,1395.3 241.4,1408.4 241.5,1421.6 241.5,1447.8 241.6,1460.9 241.6,1474.0 241.6,1447.8 241.6,1421.6 241.7,1408.4 241.8,1382.2 242.0,1356.0 242.1,1329.8 242.3,1316.7 242.5,1290.4 242.8,1264.2 243.1,1238.0 243.3,1224.9 243.7,1211.8 244.0,1185.5 244.3,1172.4 244.7,1159.3 245.0,1159.3 245.4,1146.2 245.8,1133.1 246.3,1133.1 246.7,1126.5 247.2,1120.0 251.9,1120.0 252.4,1133.1 253.4,1133.1 253.9,1146.2 255.3,1146.2 255.8,1133.1 256.9,1133.1 257.4,1120.0 258.8,1120.0 259.3,1133.1 259.8,1146.2 260.2,1172.4 260.5,1185.5 260.8,1211.8 261.1,1251.1 261.3,1277.3 261.5,1316.7 261.7,1342.9 261.8,1356.0 262.0,1382.2 262.1,1408.4 262.1,1434.7 262.2,1447.8 262.2,1474.0 262.2,1447.8 262.2,1421.6 262.3,1408.4 262.4,1382.2 262.6,1356.0 262.7,1329.8 262.9,1316.7 263.1,1290.4 263.4,1264.2 263.7,1238.0 263.9,1224.9 264.3,1211.8 264.6,1185.5 264.9,1172.4 265.3,1159.3 265.6,1159.3 266.0,1146.2 266.4,1133.1 266.9,1133.1 267.3,1120.0 267.8,1120.0 268.2,1106.9 269.1,1106.9 269.5,1120.0 270.0,1120.0 270.4,1133.1 270.9,1146.2 271.4,1159.3 271.8,1172.4 272.2,1185.5 272.5,1198.6 272.9,1211.8 273.2,1224.9 273.5,1238.0 273.8,1264.2 274.1,1277.3 274.3,1303.5 274.5,1316.7 274.7,1329.8 274.9,1342.9 275.1,1342.9 275.2,1356.0 275.4,1369.1 275.5,1382.2 275.6,1395.3 275.7,1408.4 275.8,1408.4 275.9,1421.6 275.9,1434.7 276.0,1421.6 276.0,1408.4 276.1,1408.4 276.2,1395.3 276.3,1382.2 276.5,1369.1 276.6,1356.0 276.8,1342.9 276.9,1342.9 277.1,1329.8 277.3,1316.7 277.5,1303.5 277.7,1303.5 278.0,1290.4 278.2,1290.4 278.5,1277.3 278.7,1290.4 279.0,1316.7 279.2,1329.8 279.4,1342.9 279.5,1356.0 279.7,1369.1 279.8,1382.2 279.9,1395.3 280.0,1408.4 280.1,1421.6 280.1,1434.7 280.2,1447.8 280.2,1460.9 280.2,1474.0 280.2,1460.9 280.3,1434.7 280.3,1421.6 280.4,1395.3 280.5,1382.2 280.6,1369.1 280.8,1342.9 281.0,1329.8 281.2,1303.5 281.4,1290.4 281.6,1277.3 281.9,1264.2 282.2,1238.0 282.4,1224.9 282.7,1224.9 283.0,1211.8 284.8,1211.8 285.2,1198.6 287.1,1198.6 287.4,1224.9 287.7,1238.0 287.9,1264.2 288.2,1290.4 288.4,1329.8 288.5,1356.0 288.6,1382.2 288.7,1408.4 288.8,1447.8 288.8,1474.0 288.8,1460.9 288.8,1447.8 288.9,1434.7 288.9,1421.6 289.0,1408.4 289.1,1395.3 289.2,1382.2 289.3,1369.1 289.5,1356.0 289.6,1342.9 289.8,1329.8 290.0,1316.7 290.2,1303.5 290.4,1290.4 290.6,1290.4 290.9,1277.3 291.1,1264.2 291.4,1251.1 291.6,1238.0 291.9,1238.0 292.2,1224.9 292.5,1224.9 292.7,1211.8 293.3,1211.8 293.6,1198.6 296.1,1198.6 296.5,1185.5 300.0,1185.5 300.3,1251.1 300.5,1316.7 300.7,1342.9 300.8,1369.1 301.0,1395.3 301.1,1408.4 301.1,1434.7 301.2,1460.9 301.2,1447.8 301.2,1421.6 301.3,1408.4 301.4,1395.3 301.5,1369.1 301.7,1356.0 301.8,1329.8 302.0,1316.7 302.2,1303.5 302.5,1290.4 302.8,1264.2 303.0,1251.1 304.4,1251.1 304.7,1277.3 304.9,1290.4 305.1,1316.7 305.3,1329.8 305.4,1342.9 305.6,1369.1 305.7,1382.2 305.8,1395.3 305.9,1395.3 306.0,1408.4 306.1,1408.4 306.1,1421.6 306.2,1421.6 306.3,1434.7 306.4,1434.7 306.4,1447.8 306.4,1447.8 306.4,1460.9 306.5,1460.9 306.5,1474.0 306.5,1474.0 306.5,1447.8 306.5,1434.7 306.6,1408.4 306.7,1395.3 306.8,1369.1 306.9,1356.0 307.1,1329.8 307.3,1316.7 307.5,1290.4 307.7,1264.2 308.0,1251.1 308.2,1238.0 308.5,1211.8 308.9,1198.6 309.2,1185.5 309.6,1179.0 309.9,1172.4 310.3,1172.4 310.7,1185.5 311.1,1198.6 311.4,1211.8 311.7,1224.9 312.0,1238.0 312.3,1251.1 312.6,1264.2 312.9,1277.3 313.1,1290.4 313.3,1316.7 313.5,1329.8 313.7,1342.9 313.8,1356.0 314.0,1356.0 314.1,1369.1 314.3,1369.1 314.4,1382.2 314.5,1395.3 314.6,1395.3 314.7,1408.4 314.8,1408.4 314.8,1421.6 314.9,1421.6 314.9,1434.7 315.0,1447.8 315.0,1447.8 315.0,1460.9 315.1,1460.9 315.1,1474.0 315.1,1460.9 315.1,1447.8 315.2,1421.6 315.2,1408.4 315.3,1395.3 315.4,1382.2 315.6,1369.1 315.7,1342.9 315.9,1329.8 316.1,1316.7 316.3,1290.4 316.6,1277.3 316.8,1264.2 317.1,1238.0 319.5,1238.0 319.8,1290.4 320.0,1342.9 320.2,1369.1 320.3,1382.2 320.4,1408.4 320.5,1434.7 320.5,1447.8 320.6,1474.0 320.6,1447.8 320.6,1408.4 320.7,1382.2 320.9,1356.0 321.0,1316.7 321.2,1290.4 321.6,1251.1 321.9,1211.8 322.3,1185.5 322.6,1159.3 323.1,1146.2 323.5,1120.0 324.0,1106.9 324.4,1106.9 324.8,1093.7 325.3,1080.6 326.3,1080.6 326.8,1067.5 327.4,1061.0 328.0,1054.4 330.3,1054.4 330.9,1047.9 331.4,1041.3 333.1,1041.3 333.6,1047.9 334.3,1054.4 340.4,1054.4 340.8,1046.5 341.3,1054.4 345.5,1054.4 346.0,1067.5 346.5,1080.6 347.0,1093.7 347.5,1106.9 348.0,1133.1 348.4,1146.2 348.7,1172.4 349.1,1185.5 349.4,1198.6 349.8,1224.9 350.1,1238.0 350.4,1264.2 350.7,1277.3 350.9,1290.4 351.1,1316.7 351.3,1329.8 351.5,1342.9 351.6,1356.0 351.8,1369.1 351.9,1382.2 352.0,1395.3 352.1,1408.4 352.2,1421.6 352.2,1434.7 352.3,1447.8 352.3,1460.9 352.3,1474.0 352.3,1421.6 352.4,1382.2 352.6,1342.9 352.8,1290.4 353.1,1251.1 353.5,1211.8 354.5,1211.8 354.9,1224.9 355.3,1251.1 355.6,1264.2 355.9,1277.3 356.1,1290.4 356.4,1303.5 356.6,1311.4 356.8,1303.5 357.0,1290.4 357.2,1277.3 357.5,1277.3 357.7,1264.2 358.0,1251.1 358.2,1238.0 358.5,1238.0 358.8,1224.9 359.1,1224.9 359.4,1211.8 359.7,1211.8 360.0,1198.6 360.4,1185.5 361.1,1185.5 361.4,1172.4 361.8,1172.4 362.1,1185.5 362.5,1185.5 362.8,1198.6 363.2,1211.8 363.5,1238.0 363.8,1251.1 364.1,1264.2 364.3,1290.4 364.5,1303.5 364.7,1329.8 364.8,1342.9 365.0,1356.0 365.1,1356.0 365.3,1369.1 365.4,1382.2 365.5,1382.2 365.6,1395.3 365.7,1408.4 365.8,1408.4 365.9,1421.6 365.9,1434.7 366.0,1434.7 366.0,1447.8 366.0,1460.9 366.0,1460.9 366.1,1474.0 366.1,1447.8 366.1,1421.6 366.2,1408.4 366.3,1382.2 366.4,1356.0 366.6,1329.8 366.8,1316.7 367.0,1290.4 367.3,1264.2 367.6,1238.0 367.9,1211.8 368.2,1198.6 368.6,1172.4 369.1,1159.3 369.5,1133.1 370.0,1120.0 370.4,1106.9 370.9,1093.7 371.4,1087.2 371.9,1080.6 372.4,1080.6 372.9,1072.8 373.5,1080.6 375.0,1080.6 375.5,1087.2 376.0,1093.7 376.9,1093.7 377.3,1106.9 377.7,1106.9 378.1,1120.0 378.5,1133.1 378.9,1133.1 379.3,1146.2 379.6,1159.3 380.0,1185.5 380.3,1198.6 380.6,1211.8 381.0,1238.0 381.3,1251.1 381.6,1277.3 381.8,1290.4 382.0,1316.7 382.2,1329.8 382.4,1342.9 382.5,1356.0 382.7,1369.1 382.8,1382.2 382.9,1395.3 383.0,1408.4 383.1,1421.6 383.2,1434.7 383.2,1447.8 383.2,1460.9 383.2,1447.8 383.3,1421.6 383.4,1408.4 383.4,1395.3 383.6,1369.1 383.7,1356.0 383.8,1342.9 384.0,1329.8 384.2,1303.5 384.4,1290.4 384.6,1264.2 384.9,1251.1 385.2,1224.9 385.5,1211.8 385.8,1185.5 386.2,1172.4 386.7,1146.2 387.2,1133.1 387.6,1120.0 388.0,1120.0 388.4,1112.1 388.8,1120.0 389.2,1120.0 389.6,1133.1 390.1,1146.2 390.5,1172.4 390.9,1185.5 391.3,1211.8 391.7,1224.9 392.0,1238.0 392.3,1264.2 392.6,1290.4 392.8,1303.5 393.0,1329.8 393.2,1342.9 393.3,1369.1 393.5,1369.1 393.6,1382.2 393.7,1395.3 393.9,1395.3 394.0,1408.4 394.1,1421.6 394.2,1421.6 394.2,1434.7 394.3,1447.8 394.3,1447.8 394.4,1460.9 394.4,1474.0 394.4,1474.0 394.4,1460.9 394.4,1447.8 394.5,1421.6 394.5,1408.4 394.6,1395.3 394.7,1382.2 394.9,1369.1 395.0,1342.9 395.2,1329.8 395.4,1316.7 395.6,1303.5 395.9,1290.4 396.2,1277.3 396.4,1264.2 397.5,1264.2 397.7,1251.1 398.0,1238.0 398.2,1238.0 398.5,1224.9 398.8,1224.9 399.2,1211.8 399.5,1211.8 399.8,1238.0 400.1,1264.2 400.4,1290.4 400.6,1316.7 400.8,1342.9 401.0,1369.1 401.1,1395.3 401.2,1421.6 401.2,1447.8 401.2,1474.0 401.3,1460.9 401.3,1447.8 401.3,1447.8 401.3,1434.7 401.4,1421.6 401.5,1408.4 401.5,1408.4 401.6,1395.3 401.7,1382.2 401.9,1369.1 402.0,1369.1 402.1,1356.0 402.3,1342.9 402.4,1342.9 402.6,1329.8 402.9,1329.8 403.1,1316.7 403.3,1316.7 403.5,1329.8 403.7,1342.9 403.8,1342.9 404.0,1356.0 404.1,1369.1 404.3,1382.2 404.4,1395.3 404.5,1408.4 404.6,1408.4 404.6,1421.6 404.7,1434.7 404.7,1421.6 404.8,1408.4 404.9,1395.3 405.0,1369.1 405.2,1356.0 405.3,1342.9 405.5,1329.8 405.7,1316.7 405.9,1303.5 406.1,1290.4 406.3,1277.3 406.6,1251.1 406.8,1238.0 407.1,1224.9 407.4,1211.8 407.7,1198.6 408.1,1185.5 408.4,1185.5 408.8,1172.4 409.1,1159.3 409.6,1159.3 410.0,1146.2 410.4,1133.1 412.1,1133.1 412.4,1146.2 412.8,1159.3 413.1,1172.4 413.5,1198.6 413.8,1211.8 414.1,1238.0 414.4,1264.2 414.7,1290.4 414.9,1316.7 415.2,1342.9 415.3,1356.0 415.5,1369.1 415.6,1382.2 415.7,1395.3 415.8,1408.4 415.9,1421.6 415.9,1434.7 416.0,1447.8 416.0,1460.9 416.0,1474.0 416.0,1460.9 416.1,1434.7 416.1,1421.6 416.2,1395.3 416.3,1382.2 416.4,1369.1 416.6,1342.9 416.8,1329.8 417.0,1303.5 417.2,1290.4 417.4,1277.3 417.7,1264.2 418.0,1251.1 418.2,1238.0 418.6,1224.9 418.9,1224.9 419.3,1211.8 423.0,1211.8 423.4,1198.6 423.7,1198.6 424.1,1185.5 424.4,1172.4 424.8,1172.4 425.1,1159.3 426.8,1159.3 427.2,1146.2 427.5,1146.2 427.9,1133.1 428.3,1120.0 428.8,1120.0 429.2,1106.9 429.7,1093.7 430.1,1093.7 430.6,1080.6 435.8,1080.6 436.3,1093.7 439.2,1093.7 439.6,1080.6 440.5,1080.6 440.9,1067.5 443.5,1067.5 443.9,1080.6 444.3,1106.9 444.9,1133.1 445.4,1159.3 445.7,1185.5 446.1,1198.6 446.4,1224.9 446.7,1251.1 447.0,1264.2 447.2,1290.4 447.4,1316.7 447.6,1329.8 447.8,1342.9 448.0,1356.0 448.1,1369.1 448.2,1382.2 448.3,1395.3 448.4,1408.4 448.5,1421.6 448.6,1434.7 448.6,1447.8 448.6,1460.9 448.6,1474.0 448.6,1460.9 448.6,1460.9 448.7,1447.8 448.7,1434.7 448.8,1434.7 448.8,1421.6 448.9,1408.4 449.0,1408.4 449.1,1395.3 449.2,1382.2 449.3,1382.2 449.4,1369.1 449.5,1356.0 449.7,1356.0 449.8,1342.9 450.0,1329.8 450.2,1329.8 450.4,1316.7 450.6,1316.7 450.8,1303.5 451.0,1303.5 451.2,1290.4 451.4,1303.5 451.7,1316.7 451.9,1316.7 452.1,1329.8 452.2,1342.9 452.4,1356.0 452.5,1369.1 452.6,1369.1 452.7,1382.2 452.8,1395.3 452.9,1408.4 453.0,1395.3 453.1,1395.3 453.2,1382.2 453.3,1369.1 453.5,1369.1 453.6,1356.0 453.8,1356.0 453.9,1342.9 454.1,1329.8 454.3,1316.7 454.5,1316.7 454.7,1303.5 455.0,1290.4 455.2,1277.3 455.5,1264.2 455.7,1238.0 456.0,1224.9 456.3,1211.8 456.6,1211.8 456.9,1198.6 457.2,1185.5 457.6,1185.5 458.0,1172.4 458.4,1172.4 458.8,1185.5 459.1,1185.5 459.4,1198.6 459.8,1211.8 460.1,1224.9 460.5,1238.0 461.0,1238.0 461.3,1251.1 461.5,1251.1 461.8,1238.0 462.1,1224.9 462.4,1211.8 464.6,1211.8 464.9,1264.2 465.1,1316.7 465.3,1342.9 465.4,1356.0 465.6,1382.2 465.7,1408.4 465.7,1434.7 465.8,1447.8 465.8,1474.0 465.8,1447.8 465.9,1421.6 465.9,1408.4 466.0,1382.2 466.2,1356.0 466.3,1329.8 466.5,1316.7 466.7,1290.4 467.0,1264.2 467.3,1238.0 467.6,1198.6 468.0,1172.4 468.4,1159.3 468.8,1133.1 469.2,1120.0 469.6,1106.9 470.0,1093.7 470.4,1087.2 470.9,1080.6 474.2,1080.6 474.9,1093.7 478.0,1093.7 478.7,1080.6 480.4,1080.6 480.8,1093.7 481.2,1106.9 481.7,1133.1 482.1,1146.2 482.6,1185.5 483.0,1211.8 483.3,1238.0 483.6,1277.3 483.8,1303.5 484.0,1316.7 484.2,1329.8 484.4,1356.0 484.5,1369.1 484.7,1382.2 484.8,1395.3 484.9,1408.4 484.9,1421.6 485.0,1447.8 485.0,1460.9 485.0,1474.0 485.0,1447.8 485.1,1421.6 485.2,1408.4 485.3,1382.2 485.4,1356.0 485.6,1329.8 485.7,1316.7 486.0,1290.4 486.2,1264.2 486.5,1238.0 486.9,1224.9 487.3,1198.6 487.6,1185.5 487.9,1172.4 488.3,1159.3 490.3,1159.3 490.7,1172.4 491.0,1172.4 491.4,1185.5 492.1,1185.5 492.4,1198.6 492.8,1211.8 493.4,1211.8 493.8,1224.9 494.1,1238.0 494.4,1238.0 494.6,1251.1 494.9,1251.1 495.2,1264.2 495.4,1277.3 495.7,1290.4 495.9,1290.4 496.2,1303.5 496.4,1303.5 496.6,1316.7 496.8,1316.7 497.0,1329.8 497.2,1329.8 497.4,1316.7 497.7,1290.4 497.9,1264.2 498.2,1251.1 498.6,1224.9 498.9,1211.8 499.3,1185.5 499.6,1172.4 499.9,1159.3 500.3,1146.2 500.8,1133.1 501.3,1120.0 502.2,1120.0 502.7,1113.4 503.2,1106.9 504.1,1106.9 504.6,1120.0 505.1,1126.5 505.6,1133.1 506.1,1146.2 506.6,1159.3 507.1,1159.3 507.5,1172.4 507.9,1185.5 508.6,1185.5 508.9,1198.6 509.2,1211.8 509.6,1211.8 509.9,1224.9 510.3,1238.0 510.6,1251.1 510.8,1264.2 511.1,1264.2 511.4,1277.3 511.6,1290.4 511.8,1303.5 512.0,1316.7 512.2,1316.7 512.4,1329.8 512.6,1342.9 512.7,1342.9 512.9,1356.0 513.0,1369.1 513.1,1342.9 513.3,1329.8 513.5,1316.7 513.7,1290.4 513.9,1277.3 514.1,1251.1 514.4,1238.0 515.8,1238.0 516.0,1290.4 516.3,1342.9 516.4,1369.1 516.6,1382.2 516.7,1408.4 516.7,1434.7 516.8,1447.8 516.8,1474.0 516.8,1447.8 516.8,1434.7 516.9,1408.4 517.0,1395.3 517.1,1369.1 517.2,1356.0 517.4,1329.8 517.6,1316.7 517.8,1290.4 518.0,1264.2 518.3,1251.1 518.5,1238.0 518.8,1211.8 519.2,1198.6 519.5,1172.4 519.9,1159.3 520.4,1133.1 520.9,1120.0 521.4,1106.9 524.7,1106.9 525.4,1093.7 525.9,1080.6 532.6,1080.6 533.3,1067.5 536.0,1067.5 536.7,1054.4 537.7,1054.4 538.4,1041.3 539.4,1041.3 540.1,1028.2 547.0,1028.2 547.7,1041.3 549.7,1041.3 550.4,1054.4 551.1,1067.5 552.1,1067.5 552.8,1054.4 557.6,1054.4 558.3,1041.3 558.8,1028.2 562.6,1028.2 563.1,1020.3 564.0,1020.3 564.4,1028.2 565.4,1028.2 565.9,1041.3 566.5,1054.4 567.7,1054.4 568.3,1067.5 568.8,1080.6 569.8,1080.6 570.3,1093.7 570.9,1106.9 571.9,1106.9 572.4,1120.0 572.9,1133.1 579.4,1133.1 579.8,1120.0 581.0,1120.0 581.4,1133.1 581.8,1146.2 582.2,1159.3 582.5,1172.4 582.9,1185.5 583.2,1211.8 583.6,1224.9 583.9,1251.1 584.2,1264.2 584.4,1290.4 584.6,1303.5 584.8,1329.8 584.9,1342.9 585.1,1356.0 585.2,1369.1 585.4,1369.1 585.5,1382.2 585.6,1395.3 585.7,1408.4 585.7,1408.4 585.8,1421.6 585.9,1434.7 585.9,1447.8 585.9,1447.8 586.0,1460.9 586.0,1474.0 586.0,1447.8 586.0,1421.6 586.1,1395.3 586.2,1369.1 586.4,1342.9 586.5,1316.7 586.8,1290.4 587.0,1264.2 587.3,1238.0 587.6,1198.6 588.0,1172.4 588.5,1133.1 589.1,1106.9 589.6,1080.6 590.3,1067.5 590.7,1054.4 591.2,1054.4 591.6,1041.3 592.5,1041.3 593.0,1033.4 593.5,1028.2 601.4,1028.2 601.9,1041.3 602.3,1054.4 602.7,1054.4 603.1,1067.5 603.6,1080.6 604.5,1080.6 605.0,1067.5 605.5,1054.4 606.5,1054.4 607.0,1041.3 607.4,1041.3 607.9,1028.2 609.1,1028.2 609.7,1020.3 610.1,1028.2 611.1,1028.2 611.7,1034.7 612.3,1041.3 612.9,1047.9 613.4,1054.4 616.7,1054.4 617.4,1041.3 617.9,1028.2 618.4,1015.1 619.1,1002.0 620.3,1002.0 620.8,1008.5 621.5,1015.1 625.6,1015.1 626.3,1041.3 627.0,1054.4 633.2,1054.4 633.9,1080.6 634.5,1120.0 634.9,1146.2 635.2,1172.4 635.6,1211.8 635.9,1264.2 636.2,1290.4 636.4,1316.7 636.6,1342.9 636.7,1369.1 636.8,1395.3 636.9,1421.6 636.9,1447.8 637.0,1474.0 637.0,1447.8 637.0,1421.6 637.1,1408.4 637.2,1382.2 637.3,1356.0 637.5,1329.8 637.7,1316.7 637.9,1290.4 638.2,1264.2 638.4,1238.0 638.7,1224.9 639.0,1211.8 639.4,1185.5 639.8,1172.4 640.2,1146.2 640.7,1133.1 641.2,1120.0 641.6,1120.0 642.1,1106.9 644.3,1106.9 644.8,1093.7 645.3,1093.7 645.8,1080.6 652.1,1080.6 652.5,1093.7 652.9,1106.9 653.4,1133.1 653.8,1146.2 654.2,1185.5 654.6,1211.8 655.0,1238.0 655.2,1277.3 655.5,1303.5 655.7,1316.7 655.9,1329.8 656.1,1356.0 656.2,1369.1 656.3,1382.2 656.4,1395.3 656.5,1408.4 656.6,1421.6 656.7,1447.8 656.7,1460.9 656.7,1474.0 656.7,1460.9 656.7,1434.7 656.8,1421.6 656.9,1408.4 657.0,1382.2 657.1,1369.1 657.2,1356.0 657.4,1329.8 657.6,1316.7 657.8,1303.5 658.0,1277.3 658.2,1264.2 658.5,1277.3 658.7,1303.5 658.9,1316.7 659.1,1329.8 659.3,1356.0 659.4,1369.1 659.5,1382.2 659.6,1408.4 659.7,1421.6 659.7,1434.7 659.8,1460.9 659.8,1474.0 659.8,1447.8 659.9,1408.4 659.9,1382.2 660.1,1356.0 660.2,1329.8 660.4,1290.4 660.6,1264.2 661.0,1238.0 661.3,1224.9 661.7,1198.6 665.5,1198.6 665.9,1185.5 666.3,1159.3 666.7,1146.2 667.1,1120.0 667.5,1106.9 668.0,1093.7 668.4,1080.6 668.9,1067.5 669.5,1054.4 670.1,1047.9 670.5,1041.3 670.9,1041.3 671.5,1054.4 672.0,1067.5 672.5,1093.7 673.0,1120.0 673.4,1146.2 673.7,1159.3 674.0,1185.5 674.4,1211.8 674.8,1238.0 675.1,1264.2 675.3,1277.3 675.5,1303.5 675.8,1316.7 675.9,1342.9 676.1,1356.0 676.2,1369.1 676.4,1369.1 676.5,1382.2 676.6,1395.3 676.7,1395.3 676.8,1408.4 676.8,1421.6 676.9,1421.6 677.0,1434.7 677.0,1408.4 677.1,1382.2 677.2,1369.1 677.4,1342.9 677.6,1316.7 677.8,1290.4 678.1,1251.1 678.4,1224.9 678.8,1185.5 679.3,1159.3 679.7,1146.2 680.2,1120.0 680.7,1106.9 681.1,1093.7 681.6,1080.6 682.0,1067.5 682.5,1067.5 683.0,1054.4 685.4,1054.4 686.1,1067.5 686.7,1080.6 687.2,1080.6 687.8,1067.5 688.3,1054.4 692.4,1054.4 693.1,1067.5 693.8,1067.5 694.5,1054.4 694.9,1054.4 695.4,1041.3 699.3,1041.3 700.0,1067.5 700.5,1080.6 701.0,1093.7 701.5,1106.9 702.0,1120.0 702.5,1133.1 703.0,1146.2 704.1,1146.2 704.6,1133.1 706.5,1133.1 707.0,1120.0 707.5,1106.9 708.0,1106.9 708.5,1093.7 710.3,1093.7 710.9,1120.0 711.5,1133.1 712.0,1159.3 712.3,1172.4 712.7,1198.6 713.0,1211.8 713.3,1238.0 713.6,1251.1 713.8,1264.2 714.0,1290.4 714.3,1303.5 714.5,1316.7 714.6,1342.9 714.8,1356.0 714.9,1369.1 715.1,1382.2 715.2,1395.3 715.3,1408.4 715.3,1421.6 715.4,1447.8 715.4,1460.9 715.4,1474.0 715.4,1460.9 715.4,1447.8 715.5,1434.7 715.5,1421.6 715.6,1408.4 715.7,1395.3 715.8,1382.2 715.9,1369.1 716.1,1356.0 716.2,1342.9 716.4,1329.8 716.6,1316.7 716.8,1303.5 717.0,1290.4 717.3,1290.4 717.5,1277.3 717.8,1264.2 718.4,1264.2 718.6,1251.1 719.2,1251.1 719.5,1277.3 719.7,1316.7 719.9,1342.9 720.0,1356.0 720.2,1369.1 720.3,1395.3 720.4,1408.4 720.5,1421.6 720.5,1447.8 720.5,1460.9 720.6,1474.0 720.6,1460.9 720.6,1434.7 720.7,1421.6 720.8,1395.3 720.9,1382.2 721.0,1369.1 721.1,1342.9 721.3,1329.8 721.5,1303.5 721.8,1290.4 722.0,1264.2 722.3,1251.1 722.6,1238.0 723.0,1211.8 723.3,1198.6 723.6,1185.5 724.0,1172.4 724.3,1172.4 724.7,1159.3 726.7,1159.3 727.1,1146.2 727.4,1146.2 727.8,1133.1 728.2,1120.0 728.7,1120.0 729.1,1106.9 729.6,1133.1 730.0,1146.2 730.3,1185.5 730.6,1224.9 730.9,1264.2 731.1,1303.5 731.3,1342.9 731.4,1395.3 731.5,1434.7 731.5,1474.0 731.6,1447.8 731.6,1434.7 731.7,1408.4 731.8,1382.2 731.9,1356.0 732.0,1342.9 732.2,1316.7 732.4,1303.5 732.7,1277.3 732.9,1264.2 733.2,1277.3 733.4,1290.4 733.6,1303.5 733.8,1316.7 734.0,1329.8 734.1,1356.0 734.3,1369.1 734.4,1382.2 734.5,1408.4 734.5,1421.6 734.6,1434.7 734.6,1460.9 734.6,1474.0 734.6,1447.8 734.7,1434.7 734.7,1408.4 734.8,1395.3 735.0,1369.1 735.1,1356.0 735.3,1329.8 735.4,1316.7 735.7,1290.4 735.9,1264.2 736.1,1251.1 736.4,1238.0 736.7,1211.8 737.0,1198.6 737.4,1185.5 737.7,1172.4 738.1,1159.3 738.4,1159.3 738.9,1185.5 739.3,1198.6 739.5,1238.0 739.8,1277.3 740.0,1316.7 740.1,1342.9 740.3,1356.0 740.4,1382.2 740.5,1408.4 740.6,1434.7 740.6,1447.8 740.6,1474.0 740.7,1447.8 740.7,1421.6 740.8,1395.3 740.9,1369.1 741.1,1342.9 741.3,1316.7 741.5,1290.4 741.7,1264.2 742.0,1251.1 742.2,1238.0 742.5,1211.8 742.9,1198.6 743.2,1185.5 743.6,1172.4 743.9,1172.4 744.2,1159.3 745.6,1159.3 746.0,1172.4 746.3,1185.5 747.0,1185.5 747.3,1172.4 747.7,1159.3 748.1,1146.2 748.5,1146.2 748.9,1138.3 749.3,1146.2 749.7,1159.3 750.1,1172.4 750.4,1172.4 750.8,1185.5 751.1,1211.8 751.5,1224.9 751.8,1251.1 752.1,1277.3 752.3,1290.4 752.5,1316.7 752.7,1342.9 752.8,1356.0 753.0,1369.1 753.1,1382.2 753.2,1395.3 753.3,1408.4 753.4,1421.6 753.4,1434.7 753.5,1447.8 753.5,1460.9 753.5,1474.0 753.5,1447.8 753.6,1421.6 753.7,1408.4 753.8,1382.2 753.9,1356.0 754.1,1329.8 754.2,1316.7 754.5,1290.4 754.7,1264.2 755.0,1238.0 755.3,1224.9 755.6,1211.8 755.9,1185.5 756.4,1172.4 756.8,1146.2 757.3,1133.1 757.7,1120.0 758.2,1120.0 758.7,1106.9 759.2,1106.9 759.7,1093.7 763.5,1093.7 763.9,1106.9 764.3,1120.0 764.7,1133.1 765.1,1133.1 765.5,1146.2 766.0,1146.2 766.5,1159.3 767.3,1159.3 767.6,1172.4 768.0,1185.5 768.3,1185.5 768.6,1198.6 768.9,1211.8 769.2,1211.8 769.5,1224.9 769.8,1238.0 770.1,1264.2 770.4,1277.3 770.7,1290.4 770.9,1303.5 771.1,1316.7 771.3,1342.9 771.4,1356.0 771.5,1369.1 771.7,1382.2 771.8,1382.2 771.9,1395.3 772.0,1395.3 772.1,1408.4 772.2,1421.6 772.2,1421.6 772.3,1434.7 772.3,1447.8 772.4,1447.8 772.4,1460.9 772.4,1460.9 772.4,1474.0 772.4,1447.8 772.5,1421.6 772.6,1395.3 772.7,1369.1 772.8,1342.9 773.0,1316.7 773.3,1290.4 773.5,1264.2 773.8,1238.0 774.1,1211.8 776.5,1211.8 776.8,1277.3 777.0,1342.9 777.2,1369.1 777.3,1382.2 777.4,1408.4 777.5,1434.7 777.5,1447.8 777.6,1474.0 777.6,1447.8 777.6,1434.7 777.7,1408.4 777.8,1395.3 777.9,1369.1 778.0,1342.9 778.2,1329.8 778.4,1303.5 778.7,1290.4 778.9,1264.2 779.2,1251.1 779.5,1224.9 779.9,1211.8 780.3,1185.5 780.6,1172.4 781.1,1159.3 781.5,1133.1 782.0,1120.0 782.5,1106.9 782.9,1106.9 783.4,1093.7 783.8,1080.6 784.3,1080.6 784.8,1067.5 785.2,1067.5 785.7,1054.4 786.6,1054.4 787.2,1046.5 787.7,1041.3 788.7,1041.3 789.2,1046.5 789.7,1054.4 792.0,1054.4 792.7,1080.6 793.2,1080.6 793.7,1093.7 797.8,1093.7 798.2,1106.9 798.7,1120.0 799.1,1133.1 799.5,1159.3 800.0,1185.5 800.4,1211.8 800.7,1238.0 801.0,1264.2 801.2,1290.4 801.5,1303.5 801.7,1329.8 801.9,1342.9 802.0,1369.1 802.1,1382.2 802.3,1395.3 802.3,1421.6 802.4,1434.7 802.4,1460.9 802.4,1474.0 802.5,1447.8 802.5,1421.6 802.6,1408.4 802.7,1382.2 802.8,1356.0 803.0,1329.8 803.2,1316.7 803.4,1290.4 803.6,1264.2 803.9,1238.0 804.2,1224.9 804.5,1211.8 804.8,1185.5 805.2,1172.4 805.6,1146.2 806.1,1133.1 806.4,1120.0 806.8,1106.9 807.3,1100.3 807.6,1093.7 808.0,1080.6 810.6,1080.6 811.0,1067.5 813.6,1067.5 814.3,1080.6 815.0,1093.7 815.5,1106.9 816.5,1106.9 817.0,1120.0 818.1,1120.0 818.6,1106.9 819.6,1106.9 820.1,1093.7 821.2,1093.7 821.8,1120.0 822.4,1133.1 822.9,1159.3 823.2,1172.4 823.6,1198.6 823.9,1211.8 824.2,1238.0 824.5,1264.2 824.7,1277.3 824.9,1303.5 825.1,1316.7 825.3,1342.9 825.5,1356.0 825.6,1369.1 825.7,1395.3 825.8,1408.4 825.9,1421.6 825.9,1434.7 826.0,1460.9 826.0,1474.0 826.0,1447.8 826.0,1421.6 826.1,1408.4 826.2,1382.2 826.3,1356.0 826.5,1329.8 826.7,1316.7 826.9,1290.4 827.2,1264.2 827.4,1238.0 827.7,1224.9 828.0,1211.8 828.4,1185.5 828.7,1172.4 829.1,1146.2 829.6,1133.1 830.0,1120.0 830.4,1120.0 830.8,1106.9 833.9,1106.9 834.5,1093.7 835.0,1080.6 835.4,1067.5 835.9,1054.4 836.4,1046.5 836.9,1041.3 837.3,1041.3 837.7,1054.4 838.2,1054.4 838.6,1067.5 839.0,1080.6 839.5,1093.7 840.0,1106.9 840.6,1133.1 841.1,1146.2 841.4,1159.3 841.8,1172.4 842.1,1185.5 842.5,1198.6 842.8,1224.9 843.1,1238.0 843.4,1264.2 843.7,1277.3 843.9,1290.4 844.2,1316.7 844.4,1329.8 844.5,1342.9 844.7,1356.0 844.8,1369.1 845.0,1382.2 845.1,1395.3 845.2,1408.4 845.2,1421.6 845.3,1434.7 845.3,1447.8 845.4,1460.9 845.4,1474.0 845.4,1460.9 845.4,1460.9 845.4,1447.8 845.5,1434.7 845.5,1434.7 845.6,1421.6 845.6,1408.4 845.7,1408.4 845.8,1395.3 845.9,1382.2 846.0,1382.2 846.1,1369.1 846.3,1356.0 846.4,1356.0 846.6,1342.9 846.8,1329.8 846.9,1329.8 847.2,1316.7 847.4,1316.7 847.6,1303.5 847.8,1316.7 848.0,1342.9 848.1,1356.0 848.3,1369.1 848.4,1395.3 848.5,1408.4 848.5,1421.6 848.6,1434.7 848.6,1460.9 848.6,1474.0 848.6,1460.9 848.7,1447.8 848.7,1434.7 848.8,1421.6 848.8,1408.4 848.9,1395.3 849.0,1382.2 849.2,1369.1 849.3,1356.0 849.5,1342.9 849.6,1329.8 849.8,1316.7 850.0,1303.5 850.3,1303.5 850.5,1290.4 850.8,1290.4 851.0,1277.3 851.3,1290.4 851.5,1303.5 851.7,1316.7 851.9,1329.8 852.1,1342.9 852.2,1356.0 852.4,1369.1 852.5,1369.1 852.6,1382.2 852.7,1395.3 852.8,1408.4 852.9,1408.4 852.9,1421.6 853.0,1434.7 853.0,1447.8 853.1,1447.8 853.1,1460.9 853.1,1474.0 853.1,1460.9 853.1,1434.7 853.2,1421.6 853.3,1395.3 853.4,1382.2 853.5,1369.1 853.7,1342.9 853.9,1329.8 854.1,1303.5 854.3,1290.4 854.6,1264.2 854.8,1251.1 855.2,1238.0 855.5,1211.8 855.8,1198.6 856.2,1172.4 856.5,1159.3 856.9,1146.2 857.2,1146.2 857.6,1133.1 858.1,1133.1 858.6,1120.0 860.6,1120.0 861.2,1106.9 862.1,1106.9 862.6,1093.7 863.0,1093.7 863.5,1106.9 863.9,1120.0 864.3,1133.1 864.8,1146.2 865.1,1159.3 865.5,1172.4 865.8,1185.5 866.2,1198.6 866.5,1224.9 866.8,1238.0 867.1,1264.2 867.4,1277.3 867.6,1290.4 867.9,1316.7 868.0,1329.8 868.2,1342.9 868.4,1369.1 868.5,1382.2 868.6,1395.3 868.7,1408.4 868.8,1421.6 868.8,1447.8 868.9,1460.9 868.9,1474.0 868.9,1460.9 868.9,1434.7 869.0,1421.6 869.1,1395.3 869.2,1382.2 869.3,1369.1 869.5,1342.9 869.7,1329.8 869.9,1303.5 870.1,1290.4 870.3,1264.2 870.6,1251.1 870.9,1238.0 871.3,1211.8 871.6,1198.6 872.0,1185.5 872.3,1172.4 872.7,1159.3 873.0,1159.3 873.3,1146.2 875.4,1146.2 875.8,1133.1 876.3,1120.0 876.7,1120.0 877.1,1106.9 880.2,1106.9 880.6,1133.1 880.9,1146.2 881.4,1185.5 881.8,1211.8 882.1,1238.0 882.4,1264.2 882.6,1290.4 882.8,1303.5 883.0,1316.7 883.2,1342.9 883.4,1356.0 883.5,1369.1 883.6,1382.2 883.8,1369.1 883.9,1342.9 884.1,1329.8 884.3,1303.5 884.5,1290.4 884.8,1264.2 885.0,1251.1 885.4,1224.9 886.7,1224.9 887.0,1251.1 887.2,1290.4 887.4,1316.7 887.6,1329.8 887.8,1356.0 887.9,1369.1 888.0,1382.2 888.1,1408.4 888.2,1421.6 888.2,1434.7 888.3,1460.9 888.3,1474.0 888.3,1460.9 888.3,1434.7 888.4,1421.6 888.5,1395.3 888.6,1382.2 888.7,1369.1 888.9,1342.9 889.1,1329.8 889.3,1303.5 889.5,1290.4 889.7,1264.2 890.0,1251.1 890.3,1238.0 890.7,1211.8 891.1,1198.6 891.5,1172.4 891.9,1159.3 892.3,1146.2 892.7,1146.2 893.1,1133.1 893.5,1133.1 893.9,1120.0 896.0,1120.0 896.4,1106.9 896.9,1093.7 897.5,1080.6 900.8,1080.6 901.5,1106.9 902.0,1133.1 902.5,1146.2 902.9,1159.3 903.2,1185.5 903.6,1198.6 903.9,1224.9 904.3,1238.0 904.6,1264.2 904.8,1277.3 905.1,1290.4 905.3,1303.5 905.5,1316.7 905.7,1329.8 905.8,1342.9 906.0,1356.0 906.1,1329.8 906.3,1316.7 906.6,1290.4 906.8,1264.2 907.1,1251.1 907.4,1224.9 907.7,1211.8 908.7,1211.8 909.1,1238.0 909.4,1264.2 909.7,1290.4 909.9,1303.5 910.1,1316.7 910.3,1342.9 910.4,1356.0 910.6,1356.0 910.7,1369.1 910.8,1382.2 910.9,1382.2 911.0,1395.3 911.1,1408.4 911.2,1408.4 911.3,1421.6 911.3,1434.7 911.4,1434.7 911.4,1447.8 911.4,1460.9 911.5,1460.9 911.5,1474.0 911.5,1447.8 911.5,1421.6 911.6,1395.3 911.7,1369.1 911.9,1342.9 912.0,1316.7 912.2,1290.4 912.5,1264.2 912.8,1238.0 913.1,1198.6 913.5,1172.4 913.9,1146.2 914.3,1133.1 914.7,1106.9 915.1,1093.7 915.5,1080.6 915.9,1074.1 916.4,1067.5 917.5,1067.5 918.0,1074.1 918.5,1080.6 922.2,1080.6 922.6,1067.5 923.2,1067.5 923.8,1058.3 924.3,1067.5 924.8,1067.5 925.4,1080.6 928.3,1080.6 929.0,1106.9 929.4,1133.1 929.8,1146.2 930.3,1172.4 930.7,1198.6 931.0,1211.8 931.3,1238.0 931.5,1251.1 931.8,1264.2 932.1,1264.2 932.4,1277.3 932.6,1264.2 932.9,1264.2 933.2,1251.1 933.4,1238.0 933.8,1224.9 934.1,1224.9 934.5,1211.8 934.8,1224.9 935.1,1251.1 935.3,1264.2 935.6,1290.4 935.8,1316.7 936.0,1342.9 936.2,1356.0 936.3,1369.1 936.4,1395.3 936.5,1408.4 936.6,1421.6 936.7,1447.8 936.7,1460.9 936.7,1474.0 936.7,1460.9 936.7,1434.7 936.8,1421.6 936.9,1395.3 937.0,1382.2 937.1,1369.1 937.3,1342.9 937.5,1329.8 937.7,1303.5 937.9,1290.4 938.2,1264.2 938.4,1251.1 938.8,1238.0 939.1,1211.8 939.5,1198.6 939.9,1172.4 940.3,1159.3 940.7,1146.2 941.1,1146.2 941.5,1133.1 941.9,1133.1 942.3,1120.0 942.7,1113.4 943.2,1106.9 946.2,1106.9 946.7,1093.7 947.1,1080.6 950.1,1080.6 950.8,1106.9 951.3,1133.1 951.8,1146.2 952.2,1159.3 952.5,1172.4 952.8,1185.5 953.2,1198.6 953.5,1211.8 953.9,1224.9 954.2,1238.0 954.6,1238.0 954.9,1251.1 956.1,1251.1 956.4,1238.0 956.8,1238.0 957.1,1224.9 957.5,1224.9 957.8,1211.8 960.6,1211.8 960.9,1224.9 961.2,1238.0 961.5,1264.2 961.7,1277.3 961.9,1290.4 962.1,1316.7 962.3,1329.8 962.5,1356.0 962.6,1369.1 962.8,1395.3 962.8,1408.4 962.9,1434.7 962.9,1447.8 963.0,1474.0 963.0,1460.9 963.0,1447.8 963.1,1421.6 963.1,1408.4 963.2,1395.3 963.3,1382.2 963.5,1369.1 963.6,1342.9 963.8,1329.8 964.0,1316.7 964.2,1303.5 964.5,1290.4 964.7,1277.3 965.0,1264.2 965.3,1277.3 965.6,1290.4 965.8,1290.4 966.1,1303.5 966.3,1303.5 966.5,1316.7 966.9,1316.7 967.1,1329.8 967.3,1329.8 967.4,1316.7 967.7,1316.7 967.9,1303.5 968.1,1290.4 968.3,1264.2 968.6,1251.1 968.9,1238.0 969.1,1211.8 969.7,1159.3 970.0,1146.2 970.3,1133.1 970.7,1133.1 971.0,1146.2 971.4,1159.3 971.7,1172.4 972.1,1185.5 972.4,1198.6 972.8,1224.9 973.1,1238.0 973.4,1264.2 973.7,1277.3 973.9,1290.4 974.1,1316.7 974.3,1329.8 974.5,1342.9 974.6,1369.1 974.8,1382.2 974.9,1395.3 975.0,1408.4 975.1,1421.6 975.1,1447.8 975.1,1460.9 975.2,1474.0 975.2,1447.8 975.2,1434.7 975.3,1408.4 975.4,1395.3 975.5,1369.1 975.6,1356.0 975.8,1329.8 976.0,1316.7 976.2,1290.4 976.4,1277.3 976.7,1264.2 976.9,1238.0 977.2,1224.9 977.5,1238.0 977.8,1264.2 978.0,1277.3 978.2,1290.4 978.5,1303.5 978.7,1329.8 978.9,1342.9 979.0,1369.1 979.1,1382.2 979.2,1395.3 979.3,1421.6 979.4,1434.7 979.4,1460.9 979.4,1474.0 979.5,1447.8 979.5,1421.6 979.6,1395.3 979.7,1369.1 979.9,1342.9 980.1,1316.7 980.3,1290.4 980.5,1277.3 980.8,1264.2 981.0,1238.0 981.3,1224.9 981.6,1251.1 981.8,1264.2 982.0,1290.4 982.2,1316.7 982.4,1342.9 982.6,1369.1 982.7,1395.3 982.8,1421.6 982.9,1447.8 982.9,1474.0 982.9,1460.9 982.9,1434.7 983.0,1421.6 983.1,1395.3 983.2,1382.2 983.3,1369.1 983.5,1342.9 983.6,1329.8 983.8,1303.5 984.1,1290.4 984.3,1277.3 984.6,1264.2 984.8,1238.0 985.1,1224.9 985.5,1211.8 985.8,1198.6 986.2,1198.6 986.7,1185.5 987.0,1198.6 987.3,1211.8 987.6,1211.8 987.9,1224.9 988.2,1238.0 988.4,1251.1 988.7,1251.1 989.0,1264.2 989.2,1277.3 989.5,1290.4 989.7,1290.4 989.9,1303.5 990.1,1316.7 990.3,1329.8 990.4,1329.8 990.6,1342.9 990.8,1342.9 990.9,1356.0 991.1,1356.0 991.2,1369.1 991.3,1369.1 991.4,1382.2 991.6,1382.2 991.7,1395.3 991.8,1395.3 991.8,1408.4 991.9,1408.4 992.0,1421.6 992.1,1421.6 992.1,1434.7 992.2,1434.7 992.2,1447.8 992.3,1447.8 992.3,1460.9 992.3,1460.9 992.3,1474.0 992.3,1474.0 992.3,1447.8 992.4,1421.6 992.5,1408.4 992.6,1382.2 992.7,1356.0 992.9,1329.8 993.0,1316.7 993.3,1290.4 993.5,1264.2 993.8,1238.0 994.1,1211.8 994.4,1198.6 994.7,1172.4 995.1,1146.2 995.5,1133.1 995.9,1106.9 996.3,1093.7 996.7,1080.6 997.1,1074.1 997.6,1067.5 998.0,1067.5 998.5,1061.0 999.0,1054.4 1000.4,1054.4 1000.9,1067.5 1004.0,1067.5 1004.4,1054.4 1004.8,1041.3 1005.3,1028.2 1009.0,1028.2 1009.5,1015.1 1010.2,1015.1 1010.9,1007.2 1011.5,1002.0 1012.1,1002.0 1012.9,1015.1 1013.4,1028.2 1017.0,1028.2 1017.7,1015.1 1018.2,1002.0 1020.8,1002.0 1021.5,1028.2 1022.2,1054.4 1022.9,1093.7 1023.3,1120.0 1023.7,1146.2 1024.2,1185.5 1024.6,1211.8 1024.9,1238.0 1025.2,1264.2 1025.4,1290.4 1025.6,1316.7 1025.8,1329.8 1026.0,1342.9 1026.1,1369.1 1026.3,1382.2 1026.4,1395.3 1026.5,1408.4 1026.6,1421.6 1026.6,1447.8 1026.6,1460.9 1026.7,1474.0 1026.7,1447.8 1026.7,1421.6 1026.8,1408.4 1026.9,1382.2 1027.0,1356.0 1027.2,1329.8 1027.4,1316.7 1027.6,1290.4 1027.9,1264.2 1028.1,1238.0 1028.4,1224.9 1028.7,1211.8 1029.1,1185.5 1029.5,1172.4 1029.9,1146.2 1030.4,1133.1 1030.9,1120.0 1031.3,1120.0 1031.8,1106.9 1032.3,1106.9 1032.8,1093.7 1033.3,1080.6 1039.4,1080.6 1040.0,1093.7 1042.8,1093.7 1043.5,1080.6 1045.5,1080.6 1046.0,1093.7 1046.4,1106.9 1046.8,1120.0 1047.3,1133.1 1047.6,1146.2 1048.0,1159.3 1048.3,1172.4 1048.6,1185.5 1049.0,1198.6 1049.3,1211.8 1049.7,1224.9 1050.0,1238.0 1050.3,1251.1 1051.4,1251.1 1051.7,1238.0 1052.0,1238.0 1052.4,1224.9 1052.7,1211.8 1053.1,1211.8 1053.4,1264.2 1053.6,1316.7 1053.8,1342.9 1053.9,1382.2 1054.0,1408.4 1054.1,1447.8 1054.1,1474.0 1054.1,1447.8 1054.2,1421.6 1054.3,1408.4 1054.4,1382.2 1054.5,1356.0 1054.7,1329.8 1054.8,1316.7 1055.1,1290.4 1055.3,1264.2 1055.6,1238.0 1055.9,1224.9 1056.2,1211.8 1056.5,1185.5 1056.9,1172.4 1057.3,1146.2 1057.7,1133.1 1058.1,1120.0 1058.5,1120.0 1058.9,1106.9 1059.4,1093.7 1059.8,1087.2 1060.2,1080.6 1060.6,1080.6 1061.2,1093.7 1061.7,1100.3 1062.2,1106.9 1062.7,1120.0 1063.2,1133.1 1063.6,1133.1 1064.1,1139.6 1064.5,1146.2 1065.0,1159.3 1065.8,1159.3 1066.2,1172.4 1066.5,1185.5 1067.2,1185.5 1067.5,1198.6 1067.9,1211.8 1068.2,1211.8 1068.5,1224.9 1068.8,1224.9 1069.0,1238.0 1069.3,1238.0 1069.6,1251.1 1069.8,1264.2 1070.1,1277.3 1070.3,1290.4 1070.6,1303.5 1070.8,1316.7 1071.0,1329.8 1071.1,1342.9 1071.3,1356.0 1071.4,1356.0 1071.6,1369.1 1071.7,1382.2 1071.8,1395.3 1071.9,1408.4 1072.0,1421.6 1072.0,1434.7 1072.1,1434.7 1072.1,1447.8 1072.1,1460.9 1072.1,1474.0 1072.2,1460.9 1072.2,1434.7 1072.2,1421.6 1072.3,1408.4 1072.4,1382.2 1072.5,1369.1 1072.7,1356.0 1072.8,1329.8 1073.0,1316.7 1073.2,1303.5 1073.5,1290.4 1073.7,1264.2 1074.0,1251.1 1074.4,1238.0 1074.7,1238.0 1075.1,1224.9 1076.1,1224.9 1076.4,1342.9 1076.6,1369.1 1076.7,1408.4 1076.8,1447.8 1076.8,1474.0 1076.8,1447.8 1076.8,1421.6 1076.9,1408.4 1077.0,1382.2 1077.2,1356.0 1077.3,1329.8 1077.5,1316.7 1077.7,1290.4 1078.0,1264.2 1078.2,1238.0 1078.5,1224.9 1078.8,1211.8 1079.2,1185.5 1079.6,1172.4 1080.1,1146.2 1080.6,1133.1 1081.0,1120.0 1081.5,1120.0 1081.9,1106.9 1082.4,1093.7 1082.8,1093.7 1083.3,1080.6 1083.8,1080.6 1084.2,1067.5 1085.6,1067.5 1086.1,1061.0 1086.5,1054.4 1090.2,1054.4 1090.9,1067.5 1091.5,1080.6 1096.7,1080.6 1097.4,1054.4 1099.4,1054.4 1100.1,1041.3 1100.6,1028.2 1101.7,1028.2 1102.2,1015.1 1102.7,1002.0 1103.7,1002.0 1104.2,988.9 1105.1,1002.0 1106.0,1015.1 1106.4,1015.1 1106.8,1021.6 1107.3,1028.2 1110.8,1028.2 1111.5,1015.1 1115.9,1015.1 1116.4,1028.2 1117.4,1028.2 1118.0,1034.7 1118.4,1041.3 1119.8,1041.3 1120.3,1054.4 1121.2,1054.4 1121.8,1067.5 1123.1,1067.5 1123.6,1054.4 1124.8,1054.4 1125.4,1041.3 1126.1,1067.5 1126.7,1120.0 1127.1,1159.3 1127.4,1211.8 1127.7,1251.1 1127.9,1277.3 1128.1,1316.7 1128.3,1342.9 1128.4,1356.0 1128.6,1382.2 1128.7,1408.4 1128.7,1434.7 1128.8,1447.8 1128.8,1474.0 1128.8,1447.8 1128.8,1434.7 1128.9,1408.4 1129.0,1395.3 1129.1,1369.1 1129.3,1356.0 1129.4,1329.8 1129.6,1316.7 1129.8,1290.4 1130.1,1264.2 1130.3,1251.1 1130.6,1238.0 1130.9,1211.8 1131.2,1198.6 1131.5,1172.4 1131.9,1159.3 1132.3,1146.2 1132.7,1133.1 1133.1,1120.0 1133.5,1106.9 1133.9,1106.9 1134.3,1093.7 1134.7,1106.9 1135.2,1120.0 1135.6,1133.1 1136.0,1146.2 1136.5,1159.3 1136.9,1185.5 1137.2,1198.6 1137.5,1224.9 1137.7,1238.0 1138.0,1264.2 1138.3,1290.4 1138.6,1316.7 1138.8,1329.8 1138.9,1356.0 1139.1,1369.1 1139.2,1382.2 1139.3,1408.4 1139.3,1421.6 1139.4,1434.7 1139.4,1460.9 1139.4,1474.0 1139.5,1447.8 1139.5,1421.6 1139.6,1408.4 1139.7,1382.2 1139.8,1356.0 1140.0,1329.8 1140.2,1316.7 1140.4,1290.4 1140.6,1264.2 1140.9,1238.0 1141.2,1211.8 1141.5,1198.6 1141.8,1172.4 1142.2,1159.3 1142.6,1133.1 1143.0,1120.0 1143.5,1106.9 1143.9,1093.7 1144.4,1080.6 1144.9,1067.5 1145.3,1067.5 1145.8,1054.4 1146.2,1054.4 1146.7,1041.3 1147.2,1041.3 1147.8,1028.2 1149.2,1028.2 1149.9,1021.6 1150.6,1015.1 1153.0,1015.1 1153.7,1028.2 1154.2,1028.2 1154.7,1041.3 1156.4,1041.3 1157.1,1028.2 1158.5,1028.2 1159.2,1015.1 1163.3,1015.1 1164.0,1002.0 1174.3,1002.0 1175.0,1015.1 1178.8,1015.1 1179.4,1028.2 1182.9,1028.2 1183.6,1041.3 1184.1,1054.4 1184.6,1054.4 1185.1,1067.5 1185.6,1074.1 1186.1,1080.6 1186.7,1093.7 1187.2,1106.9 1187.7,1120.0 1188.2,1133.1 1188.7,1159.3 1189.2,1185.5 1189.6,1211.8 1189.9,1238.0 1190.2,1264.2 1190.4,1290.4 1190.6,1316.7 1190.8,1329.8 1191.0,1356.0 1191.1,1369.1 1191.3,1395.3 1191.3,1408.4 1191.4,1434.7 1191.4,1447.8 1191.5,1474.0 1191.5,1460.9 1191.5,1460.9 1191.5,1447.8 1191.5,1447.8 1191.6,1434.7 1191.6,1421.6 1191.7,1421.6 1191.8,1408.4 1191.8,1408.4 1191.9,1395.3 1192.0,1395.3 1192.1,1382.2 1192.3,1369.1 1192.4,1369.1 1192.5,1356.0 1192.7,1356.0 1192.8,1342.9 1193.0,1329.8 1193.2,1329.8 1193.4,1316.7 1193.6,1303.5 1193.8,1290.4 1194.0,1290.4 1194.2,1277.3 1194.5,1264.2 1194.7,1264.2 1195.0,1251.1 1195.3,1251.1 1195.6,1238.0 1195.9,1224.9 1196.2,1211.8 1196.6,1211.8 1197.0,1198.6 1197.3,1185.5 1197.6,1185.5 1198.0,1172.4 1198.3,1159.3 1202.4,1159.3 1202.8,1146.2 1203.3,1133.1 1203.8,1120.0 1204.3,1106.9 1205.4,1106.9 1205.9,1093.7 1208.6,1093.7 1209.3,1080.6 1209.8,1080.6 1210.3,1067.5 1210.9,1054.4 1211.9,1054.4 1212.4,1041.3 1212.9,1028.2 1217.0,1028.2 1217.4,1020.3 1217.9,1015.1 1218.4,1015.1 1218.8,1028.2 1219.8,1028.2 1220.3,1034.7 1220.8,1041.3 1221.3,1041.3 1221.8,1054.4 1222.9,1054.4 1223.4,1067.5 1223.9,1080.6 1224.4,1093.7 1224.9,1106.9 1225.5,1133.1 1225.8,1146.2 1226.2,1172.4 1226.5,1185.5 1226.8,1211.8 1227.1,1238.0 1227.3,1264.2 1227.6,1290.4 1227.8,1316.7 1228.0,1342.9 1228.1,1369.1 1228.2,1395.3 1228.3,1421.6 1228.4,1447.8 1228.4,1474.0 1228.4,1447.8 1228.4,1434.7 1228.5,1408.4 1228.6,1395.3 1228.7,1369.1 1228.8,1356.0 1229.0,1329.8 1229.2,1316.7 1229.4,1290.4 1229.6,1264.2 1229.9,1251.1 1230.1,1238.0 1230.4,1211.8 1230.8,1198.6 1231.1,1172.4 1231.5,1159.3 1231.8,1146.2 1232.2,1146.2 1232.7,1133.1 1233.2,1120.0 1233.7,1106.9 1234.2,1106.9 1234.7,1093.7 1235.2,1106.9 1235.8,1120.0 1236.3,1133.1 1236.8,1146.2 1237.1,1159.3 1237.5,1172.4 1237.8,1185.5 1238.1,1198.6 1238.4,1224.9 1238.7,1238.0 1239.0,1264.2 1239.3,1290.4 1239.5,1316.7 1239.7,1329.8 1239.9,1356.0 1240.0,1369.1 1240.1,1382.2 1240.2,1408.4 1240.3,1421.6 1240.3,1434.7 1240.4,1460.9 1240.4,1474.0 1240.4,1447.8 1240.4,1434.7 1240.5,1408.4 1240.6,1395.3 1240.7,1369.1 1240.8,1356.0 1241.0,1329.8 1241.2,1316.7 1241.4,1290.4 1241.6,1264.2 1241.9,1251.1 1242.2,1238.0 1242.4,1211.8 1242.8,1198.6 1243.1,1172.4 1243.5,1159.3 1243.9,1146.2 1244.3,1146.2 1244.7,1133.1 1248.1,1133.1 1248.5,1146.2 1248.8,1146.2 1249.1,1159.3 1249.6,1198.6 1250.0,1238.0 1250.3,1277.3 1250.5,1303.5 1250.7,1342.9 1250.9,1356.0 1251.0,1369.1 1251.1,1395.3 1251.2,1408.4 1251.3,1421.6 1251.4,1434.7 1251.4,1421.6 1251.5,1421.6 1251.6,1408.4 1251.7,1395.3 1251.7,1395.3 1251.9,1382.2 1252.0,1369.1 1252.1,1356.0 1252.3,1356.0 1252.4,1342.9 1252.6,1329.8 1252.7,1329.8 1252.9,1316.7 1253.1,1303.5 1253.3,1290.4 1253.5,1290.4 1253.8,1277.3 1254.0,1277.3 1254.3,1264.2 1254.6,1264.2 1254.9,1251.1 1255.2,1251.1 1255.4,1277.3 1255.6,1290.4 1255.8,1316.7 1256.0,1342.9 1256.2,1356.0 1256.3,1369.1 1256.4,1382.2 1256.6,1395.3 1256.7,1408.4 1256.7,1421.6 1256.8,1434.7 1256.8,1447.8 1256.9,1460.9 1256.9,1474.0 1256.9,1460.9 1256.9,1447.8 1256.9,1447.8 1257.0,1434.7 1257.0,1421.6 1257.1,1408.4 1257.2,1408.4 1257.3,1395.3 1257.4,1382.2 1257.5,1369.1 1257.6,1369.1 1257.7,1356.0 1257.9,1342.9 1258.1,1329.8 1258.3,1303.5 1258.6,1290.4 1258.8,1303.5 1259.0,1316.7 1259.3,1329.8 1259.4,1342.9 1259.6,1356.0 1259.8,1369.1 1259.9,1382.2 1260.0,1395.3 1260.1,1408.4 1260.2,1421.6 1260.2,1434.7 1260.3,1447.8 1260.3,1460.9 1260.3,1474.0 1260.3,1447.8 1260.4,1421.6 1260.4,1395.3 1260.6,1369.1 1260.7,1342.9 1260.9,1316.7 1261.1,1290.4 1261.3,1264.2 1261.6,1238.0 1262.0,1198.6 1262.4,1172.4 1262.7,1159.3 1263.0,1133.1 1263.4,1120.0 1263.8,1106.9 1264.2,1106.9 1264.6,1093.7 1265.2,1080.6 1268.5,1080.6 1269.2,1067.5 1272.7,1067.5 1273.2,1059.7 1273.6,1054.4 1274.5,1054.4 1274.9,1059.7 1275.3,1067.5 1275.8,1080.6 1276.4,1133.1 1276.8,1172.4 1277.1,1211.8 1277.5,1251.1 1277.7,1277.3 1278.0,1316.7 1278.2,1329.8 1278.3,1356.0 1278.5,1369.1 1278.6,1382.2 1278.7,1408.4 1278.7,1421.6 1278.8,1434.7 1278.8,1460.9 1278.8,1474.0 1278.9,1447.8 1278.9,1421.6 1279.0,1395.3 1279.1,1369.1 1279.3,1342.9 1279.5,1316.7 1279.7,1290.4 1279.9,1264.2 1280.2,1224.9 1280.6,1198.6 1280.9,1185.5 1281.2,1172.4 1281.6,1152.8 1281.9,1146.2 1283.3,1146.2 1283.6,1152.8 1284.0,1159.3 1284.3,1172.4 1286.7,1172.4 1287.1,1198.6 1287.4,1224.9 1287.8,1251.1 1288.0,1290.4 1288.3,1316.7 1288.5,1329.8 1288.6,1356.0 1288.8,1369.1 1288.9,1382.2 1289.0,1408.4 1289.0,1421.6 1289.1,1434.7 1289.1,1460.9 1289.1,1474.0 1289.2,1447.8 1289.2,1434.7 1289.3,1408.4 1289.3,1395.3 1289.5,1369.1 1289.6,1356.0 1289.8,1329.8 1290.0,1316.7 1290.2,1290.4 1290.4,1264.2 1290.6,1251.1 1290.9,1238.0 1291.2,1211.8 1291.5,1198.6 1291.9,1185.5 1292.2,1172.4 1292.6,1159.3 1292.9,1159.3 1293.3,1151.4 1293.7,1146.2 1294.1,1146.2 1294.6,1159.3 1295.3,1159.3 1295.7,1172.4 1296.0,1179.0 1296.4,1185.5 1296.7,1185.5 1297.0,1198.6 1297.4,1211.8 1297.7,1238.0 1298.1,1251.1 1298.3,1264.2 1298.5,1290.4 1298.8,1303.5 1298.9,1316.7 1299.1,1316.7 1299.3,1329.8 1299.4,1342.9 1299.6,1329.8 1299.8,1316.7 1300.1,1290.4 1300.3,1277.3 1300.6,1264.2 1300.9,1238.0 1301.2,1224.9 1303.9,1224.9 1304.2,1290.4 1304.4,1342.9 1304.6,1369.1 1304.7,1382.2 1304.8,1408.4 1304.9,1434.7 1304.9,1447.8 1304.9,1474.0 1304.9,1460.9 1305.0,1434.7 1305.0,1421.6 1305.1,1408.4 1305.2,1382.2 1305.3,1369.1 1305.5,1356.0 1305.6,1329.8 1305.8,1316.7 1306.0,1290.4 1306.3,1277.3 1306.5,1264.2 1306.8,1238.0 1307.1,1224.9 1307.4,1211.8 1307.7,1203.9 1308.0,1198.6 1308.7,1198.6 1308.9,1211.8 1309.5,1211.8 1309.8,1224.9 1312.5,1224.9 1312.7,1251.1 1313.0,1264.2 1313.2,1290.4 1313.4,1316.7 1313.6,1342.9 1313.7,1369.1 1313.8,1382.2 1313.9,1395.3 1314.0,1395.3 1314.1,1408.4 1314.2,1421.6 1314.3,1434.7 1314.3,1447.8 1314.4,1447.8 1314.4,1460.9 1314.4,1474.0 1314.4,1447.8 1314.4,1434.7 1314.5,1408.4 1314.6,1395.3 1314.7,1369.1 1314.8,1356.0 1315.0,1329.8 1315.2,1316.7 1315.4,1290.4 1315.6,1277.3 1315.9,1264.2 1316.2,1238.0 1316.4,1224.9 1316.8,1211.8 1317.1,1198.6 1317.5,1185.5 1317.8,1172.4 1318.1,1172.4 1318.5,1159.3 1323.1,1159.3 1323.5,1146.2 1323.9,1133.1 1324.8,1133.1 1325.4,1125.2 1325.9,1120.0 1326.4,1120.0 1326.8,1133.1 1327.3,1133.1 1327.6,1146.2 1327.9,1152.8 1328.3,1172.4 1328.6,1185.5 1329.0,1211.8 1329.3,1238.0 1329.6,1264.2 1329.8,1290.4 1330.0,1316.7 1330.2,1342.9 1330.3,1356.0 1330.5,1369.1 1330.6,1382.2 1330.7,1395.3 1330.8,1408.4 1330.9,1421.6 1331.0,1434.7 1331.0,1447.8 1331.0,1460.9 1331.0,1474.0 1331.0,1447.8 1331.1,1421.6 1331.2,1395.3 1331.3,1369.1 1331.5,1342.9 1331.7,1316.7 1331.9,1290.4 1332.1,1264.2 1332.4,1238.0 1332.7,1211.8 1333.2,1185.5 1333.6,1159.3 1334.0,1159.3 1334.5,1146.2 1340.0,1146.2 1340.3,1159.3 1340.6,1159.3 1341.0,1172.4 1341.3,1179.0 1341.7,1185.5 1344.1,1185.5 1344.3,1211.8 1344.6,1224.9 1344.9,1264.2 1345.1,1316.7 1345.3,1342.9 1345.4,1356.0 1345.6,1382.2 1345.7,1408.4 1345.7,1434.7 1345.8,1447.8 1345.8,1474.0 1345.8,1447.8 1345.9,1434.7 1345.9,1408.4 1346.0,1382.2 1346.1,1356.0 1346.3,1342.9 1346.5,1316.7 1346.7,1290.4 1346.9,1264.2 1347.2,1238.0 1350.3,1238.0 1350.5,1277.3 1350.8,1316.7 1351.0,1329.8 1351.1,1356.0 1351.2,1369.1 1351.4,1382.2 1351.5,1408.4 1351.5,1421.6 1351.6,1434.7 1351.6,1460.9 1351.6,1474.0 1351.6,1447.8 1351.7,1434.7 1351.7,1408.4 1351.8,1395.3 1351.9,1369.1 1352.1,1356.0 1352.3,1329.8 1352.4,1316.7 1352.7,1290.4 1352.9,1264.2 1353.1,1251.1 1353.4,1238.0 1353.7,1211.8 1354.0,1198.6 1354.4,1185.5 1354.7,1172.4 1355.1,1159.3 1355.4,1159.3 1355.8,1146.2 1357.1,1146.2 1357.5,1159.3 1358.2,1159.3 1358.5,1172.4 1358.8,1159.3 1359.2,1159.3 1359.5,1146.2 1359.9,1133.1 1360.3,1133.1 1360.7,1120.0 1365.7,1120.0 1366.1,1133.1 1367.8,1133.1 1368.1,1120.0 1369.1,1120.0 1369.5,1106.9 1372.2,1106.9 1372.6,1120.0 1373.3,1120.0 1373.6,1106.9 1375.4,1106.9 1375.8,1093.7 1381.3,1093.7 1382.0,1113.4 1382.5,1120.0 1382.9,1133.1 1383.3,1146.2 1383.7,1159.3 1384.2,1185.5 1384.6,1198.6 1384.9,1211.8 1385.2,1238.0 1385.5,1251.1 1385.7,1264.2 1385.9,1290.4 1386.1,1316.7 1386.3,1329.8 1386.5,1342.9 1386.6,1356.0 1386.8,1369.1 1386.9,1382.2 1387.0,1395.3 1387.1,1408.4 1387.2,1421.6 1387.3,1434.7 1387.3,1447.8 1387.3,1460.9 1387.3,1474.0 1387.4,1447.8 1387.4,1421.6 1387.5,1395.3 1387.6,1369.1 1387.8,1342.9 1388.0,1316.7 1388.2,1290.4 1388.5,1264.2 1388.7,1251.1 1389.1,1224.9 1389.3,1211.8 1389.6,1211.8 1389.9,1198.6 1391.5,1198.6 1391.8,1211.8 1392.1,1238.0 1392.4,1251.1 1392.7,1264.2 1392.9,1290.4 1393.2,1303.5 1393.4,1316.7 1393.6,1329.8 1393.8,1342.9 1393.9,1342.9 1394.1,1356.0 1394.2,1369.1 1394.3,1342.9 1394.5,1316.7 1394.7,1303.5 1394.9,1277.3 1395.2,1238.0 1395.6,1211.8 1395.9,1198.6 1396.3,1185.5 1396.6,1198.6 1397.0,1205.2 1397.3,1211.8 1397.6,1211.8 1398.0,1224.9 1398.5,1224.9 1398.8,1238.0 1401.8,1238.0 1402.0,1251.1 1402.2,1277.3 1402.4,1290.4 1402.7,1303.5 1402.9,1329.8 1403.1,1342.9 1403.3,1356.0 1403.4,1356.0 1403.6,1369.1 1403.7,1369.1 1403.8,1382.2 1403.9,1369.1 1404.1,1369.1 1404.2,1356.0 1404.3,1342.9 1404.5,1329.8 1404.7,1329.8 1404.8,1316.7 1405.1,1303.5 1405.3,1303.5 1405.5,1290.4 1405.7,1277.3 1406.0,1277.3 1406.2,1264.2 1406.5,1264.2 1406.7,1251.1 1407.0,1238.0 1407.3,1238.0 1407.6,1231.4 1407.9,1224.9 1409.7,1224.9 1409.9,1251.1 1410.1,1264.2 1410.3,1290.4 1410.5,1316.7 1410.7,1342.9 1410.9,1369.1 1411.0,1382.2 1411.1,1395.3 1411.2,1408.4 1411.2,1421.6 1411.3,1434.7 1411.3,1447.8 1411.4,1460.9 1411.4,1474.0 1411.4,1447.8 1411.4,1421.6 1411.5,1395.3 1411.7,1369.1 1411.8,1342.9 1412.0,1316.7 1412.2,1290.4 1412.5,1264.2 1412.8,1238.0 1413.1,1211.8 1413.5,1185.5 1413.9,1159.3 1414.4,1146.2 1414.8,1126.5 1415.3,1120.0 1419.1,1120.0 1419.6,1112.1 1420.0,1106.9 1421.2,1106.9 1421.7,1120.0 1422.1,1133.1 1422.9,1133.1 1423.3,1146.2 1428.2,1146.2 1428.5,1159.3 1428.9,1159.3 1429.3,1172.4 1429.7,1185.5 1430.2,1198.6 1430.6,1211.8 1431.0,1224.9 1431.3,1238.0 1431.6,1251.1 1431.9,1264.2 1432.4,1264.2 1432.7,1277.3 1432.9,1264.2 1433.4,1264.2 1433.7,1251.1 1434.0,1238.0 1435.4,1238.0 1435.7,1290.4 1435.9,1342.9 1436.1,1369.1 1436.2,1382.2 1436.3,1408.4 1436.4,1434.7 1436.4,1447.8 1436.4,1474.0 1436.4,1460.9 1436.5,1447.8 1436.5,1421.6 1436.6,1408.4 1436.7,1395.3 1436.8,1369.1 1437.0,1356.0 1437.1,1342.9 1437.3,1342.9 1437.5,1329.8 1437.6,1316.7 1437.8,1316.7 1438.0,1329.8 1438.2,1342.9 1438.3,1356.0 1438.5,1356.0 1438.6,1369.1 1438.7,1382.2 1438.8,1395.3 1438.9,1369.1 1439.1,1356.0 1439.2,1329.8 1439.4,1303.5 1439.6,1290.4 1439.9,1264.2 1440.2,1238.0 1440.5,1224.9 1440.9,1198.6 1441.2,1185.5 1441.6,1172.4 1441.9,1159.3 1442.3,1146.2 1442.6,1146.2 1443.0,1133.1 1443.5,1133.1 1444.0,1122.6 1444.4,1120.0 1444.8,1120.0 1445.3,1133.1 1445.7,1133.1 1446.1,1146.2 1446.6,1159.3 1447.0,1185.5 1447.4,1198.6 1447.7,1211.8 1448.0,1238.0 1448.3,1251.1 1448.5,1277.3 1448.8,1290.4 1449.0,1316.7 1449.1,1342.9 1449.3,1356.0 1449.5,1369.1 1449.6,1382.2 1449.7,1395.3 1449.8,1408.4 1449.9,1421.6 1449.9,1434.7 1450.0,1447.8 1450.0,1460.9 1450.0,1474.0 1450.0,1421.6 1450.1,1382.2 1450.3,1342.9 1450.5,1290.4 1450.7,1251.1 1451.0,1211.8 1451.4,1198.6 1451.7,1185.5 1452.2,1185.5 1452.6,1198.6 1452.9,1198.6 1453.2,1211.8 1453.7,1211.8 1454.0,1198.6 1456.3,1198.6 1456.6,1211.8 1457.4,1211.8 1457.7,1218.3 1458.0,1211.8 1458.3,1211.8 1458.6,1198.6 1459.0,1185.5 1459.4,1185.5 1459.8,1172.4 1460.6,1172.4 1461.0,1164.6 1461.3,1159.3 1462.0,1159.3 1462.5,1172.4 1462.9,1185.5 1463.2,1198.6 1463.5,1224.9 1463.7,1238.0 1464.0,1264.2 1464.2,1290.4 1464.4,1316.7 1464.6,1342.9 1464.8,1356.0 1464.9,1369.1 1465.0,1382.2 1465.1,1395.3 1465.2,1408.4 1465.3,1421.6 1465.4,1434.7 1465.4,1447.8 1465.4,1460.9 1465.5,1474.0 1465.5,1447.8 1465.5,1421.6 1465.6,1395.3 1465.7,1369.1 1465.9,1342.9 1466.1,1316.7 1466.3,1290.4 1466.6,1264.2 1466.8,1238.0 1467.2,1211.8 1467.5,1198.6 1467.9,1177.7 1468.4,1172.4 1468.8,1185.5 1469.2,1192.1 1469.5,1198.6 1469.8,1211.8 1470.1,1211.8 1470.4,1224.9 1470.7,1251.1 1470.9,1264.2 1471.2,1290.4 1471.4,1329.8 1471.6,1356.0 1471.8,1369.1 1471.9,1382.2 1472.0,1395.3 1472.1,1408.4 1472.2,1421.6 1472.2,1434.7 1472.3,1447.8 1472.3,1460.9 1472.3,1474.0 1472.3,1460.9 1472.4,1447.8 1472.4,1434.7 1472.5,1421.6 1472.5,1408.4 1472.6,1395.3 1472.7,1382.2 1472.9,1369.1 1473.0,1356.0 1473.2,1342.9 1473.3,1329.8 1473.5,1316.7 1473.7,1290.4 1474.0,1277.3 1474.2,1264.2 1474.4,1251.1 1474.7,1238.0 1475.0,1238.0 1475.2,1224.9 1477.0,1224.9 1477.2,1303.5 1477.4,1395.3 1477.5,1474.0 1477.5,1447.8 1477.5,1421.6 1477.6,1395.3 1477.7,1369.1 1477.9,1342.9 1478.0,1316.7 1478.3,1290.4 1478.5,1264.2 1478.8,1238.0 1479.1,1211.8 1479.5,1185.5 1479.9,1172.4 1480.2,1146.2 1480.6,1133.1 1480.9,1120.0 1481.3,1120.0 1481.8,1106.9 1482.3,1093.7 1482.8,1087.2 1483.3,1080.6 1485.5,1080.6 1486.2,1093.7 1490.3,1093.7 1491.0,1113.4 1491.4,1120.0 1491.7,1133.1 1492.1,1159.3 1492.4,1172.4 1492.8,1198.6 1493.1,1224.9 1493.4,1251.1 1493.6,1290.4 1493.8,1316.7 1494.0,1329.8 1494.1,1356.0 1494.3,1369.1 1494.4,1382.2 1494.5,1408.4 1494.5,1421.6 1494.6,1434.7 1494.6,1460.9 1494.6,1474.0 1494.7,1447.8 1494.7,1408.4 1494.8,1382.2 1494.9,1356.0 1495.1,1316.7 1495.3,1290.4 1495.6,1238.0 1496.0,1198.6 1496.3,1172.4 1496.7,1146.2 1499.6,1146.2 1500.0,1133.1 1500.3,1126.5 1500.7,1120.0 1501.2,1112.1 1501.6,1106.9 1502.5,1106.9 1502.9,1120.0 1503.3,1133.1 1503.7,1133.1 1504.1,1146.2 1504.4,1146.2 1504.8,1159.3 1505.1,1172.4 1505.5,1172.4 1505.8,1185.5 1506.2,1198.6 1506.5,1211.8 1506.8,1224.9 1507.1,1238.0 1507.4,1264.2 1507.7,1277.3 1507.9,1303.5 1508.2,1329.8 1508.4,1356.0 1508.5,1369.1 1508.6,1369.1 1508.7,1382.2 1508.8,1395.3 1508.9,1408.4 1509.0,1421.6 1509.1,1421.6 1509.1,1434.7 1509.2,1447.8 1509.2,1447.8 1509.2,1460.9 1509.2,1474.0 1509.2,1447.8 1509.3,1434.7 1509.3,1408.4 1509.4,1395.3 1509.5,1369.1 1509.7,1356.0 1509.9,1329.8 1510.0,1316.7 1510.3,1290.4 1510.5,1277.3 1510.7,1264.2 1511.0,1238.0 1511.3,1224.9 1511.6,1211.8 1512.0,1211.8 1512.3,1198.6 1512.7,1185.5 1513.0,1185.5 1513.3,1179.0 1513.7,1172.4 1514.4,1172.4 1514.8,1185.5 1515.7,1185.5 1516.1,1198.6 1516.5,1185.5 1517.4,1185.5 1517.8,1172.4 1520.6,1172.4 1520.9,1185.5 1521.2,1198.6 1521.9,1198.6 1522.3,1185.5 1524.7,1185.5 1525.0,1198.6 1525.4,1211.8 1525.7,1224.9 1526.1,1238.0 1526.4,1251.1 1526.6,1277.3 1526.9,1290.4 1527.1,1303.5 1527.3,1316.7 1527.5,1329.8 1527.6,1342.9 1527.8,1356.0 1527.9,1369.1 1528.0,1369.1 1528.2,1382.2 1528.3,1395.3 1528.4,1395.3 1528.5,1408.4 1528.5,1421.6 1528.6,1421.6 1528.7,1434.7 1528.7,1434.7 1528.8,1447.8 1528.8,1460.9 1528.8,1460.9 1528.8,1474.0 1528.8,1460.9 1528.8,1447.8 1528.9,1447.8 1528.9,1434.7 1529.0,1421.6 1529.0,1408.4 1529.1,1408.4 1529.2,1395.3 1529.3,1382.2 1529.4,1369.1 1529.6,1369.1 1529.7,1356.0 1529.9,1342.9 1530.0,1356.0 1530.2,1369.1 1530.3,1369.1 1530.4,1382.2 1530.5,1395.3 1530.6,1408.4 1530.7,1408.4 1530.8,1421.6 1530.8,1434.7 1530.9,1447.8 1530.9,1447.8 1530.9,1460.9 1530.9,1474.0 1530.9,1460.9 1531.0,1447.8 1531.0,1421.6 1531.1,1408.4 1531.2,1395.3 1531.3,1382.2 1531.4,1369.1 1531.6,1342.9 1531.7,1329.8 1531.9,1316.7 1532.2,1290.4 1532.4,1277.3 1532.7,1264.2 1533.0,1238.0 1535.4,1238.0 1535.7,1251.1 1535.9,1264.2 1536.2,1264.2 1536.4,1277.3 1536.6,1290.4 1536.9,1290.4 1537.1,1303.5 1537.3,1316.7 1537.4,1329.8 1537.6,1329.8 1537.8,1342.9 1537.9,1356.0 1538.1,1356.0 1538.2,1369.1 1538.4,1369.1 1538.5,1382.2 1538.6,1395.3 1538.7,1395.3 1538.8,1408.4 1539.0,1408.4 1539.0,1421.6 1539.3,1421.6 1539.4,1434.7 1539.6,1434.7 1539.6,1447.8 1539.7,1447.8 1539.8,1460.9 1539.8,1460.9 1539.8,1474.0 1539.8,1474.0 1539.9,1447.8 1539.9,1421.6 1540.0,1395.3 1540.1,1369.1 1540.2,1342.9 1540.4,1316.7 1540.6,1290.4 1540.9,1264.2 1541.2,1238.0 1541.5,1211.8 1541.9,1185.5 1542.2,1172.4 1542.6,1146.2 1542.9,1133.1 1543.4,1120.0 1544.0,1106.9 1544.5,1106.9 1545.0,1093.7 1546.0,1093.7 1546.5,1106.9 1549.3,1106.9 1549.8,1093.7 1551.2,1093.7 1551.6,1106.9 1552.0,1113.4 1552.5,1120.0 1552.9,1133.1 1553.2,1146.2 1553.6,1159.3 1553.9,1172.4 1554.3,1185.5 1554.6,1211.8 1554.9,1224.9 1555.2,1238.0 1555.5,1264.2 1555.8,1277.3 1556.0,1290.4 1556.2,1303.5 1556.4,1316.7 1556.6,1329.8 1556.7,1342.9 1556.9,1356.0 1557.0,1369.1 1557.1,1382.2 1557.3,1382.2 1557.4,1395.3 1557.5,1395.3 1557.5,1408.4 1557.6,1421.6 1557.7,1421.6 1557.7,1434.7 1557.8,1447.8 1557.8,1447.8 1557.8,1460.9 1557.9,1460.9 1557.9,1474.0 1557.9,1460.9 1557.9,1434.7 1558.0,1421.6 1558.1,1395.3 1558.2,1382.2 1558.3,1369.1 1558.5,1342.9 1558.6,1329.8 1558.8,1303.5 1559.1,1290.4 1559.3,1264.2 1559.6,1251.1 1559.9,1238.0 1560.3,1211.8 1560.7,1198.6 1561.1,1185.5 1561.5,1172.4 1561.8,1159.3 1562.2,1159.3 1562.5,1151.4 1562.9,1146.2 1563.7,1146.2 1564.1,1159.3 1564.4,1159.3 1564.8,1172.4 1565.2,1172.4 1565.6,1185.5 1566.0,1198.6 1566.3,1211.8 1566.6,1224.9 1566.9,1251.1 1567.1,1290.4 1567.3,1316.7 1567.5,1342.9 1567.6,1356.0 1567.8,1382.2 1567.9,1408.4 1567.9,1434.7 1568.0,1447.8 1568.0,1474.0 1568.0,1460.9 1568.0,1447.8 1568.1,1434.7 1568.1,1421.6 1568.2,1408.4 1568.3,1395.3 1568.4,1382.2 1568.5,1369.1 1568.7,1356.0 1568.8,1329.8 1569.0,1316.7 1569.2,1342.9 1569.4,1369.1 1569.5,1395.3 1569.6,1408.4 1569.7,1408.4 1569.8,1421.6 1569.9,1421.6 1569.9,1434.7 1570.0,1447.8 1570.0,1447.8 1570.0,1460.9 1570.1,1460.9 1570.1,1474.0 1570.1,1460.9 1570.1,1434.7 1570.2,1421.6 1570.2,1408.4 1570.3,1395.3 1570.4,1369.1 1570.6,1356.0 1570.7,1342.9 1570.9,1329.8 1571.1,1316.7 1571.6,1316.7 1571.8,1342.9 1572.0,1369.1 1572.1,1395.3 1572.2,1408.4 1572.3,1408.4 1572.4,1421.6 1572.4,1421.6 1572.5,1434.7 1572.5,1447.8 1572.6,1447.8 1572.6,1460.9 1572.6,1460.9 1572.6,1474.0 1572.6,1460.9 1572.7,1447.8 1572.7,1434.7 1572.8,1421.6 1572.8,1408.4 1572.9,1395.3 1573.0,1382.2 1573.1,1369.1 1573.3,1356.0 1573.5,1356.0 1573.7,1342.9 1573.8,1369.1 1574.0,1382.2 1574.1,1395.3 1574.2,1421.6 1574.3,1421.6 1574.4,1434.7 1574.4,1434.7 1574.5,1447.8 1574.6,1447.8 1574.6,1460.9 1574.7,1460.9 1574.7,1474.0 1574.7,1474.0"/>
<text class="t" transform="translate(102.6 1486.9) scale(0.975 1)" text-anchor="end">0</text>
<text class="t" transform="translate(102.6 1405.4) scale(0.975 1)" text-anchor="end">10</text>
<text class="t" transform="translate(102.6 1324.0) scale(0.975 1)" text-anchor="end">20</text>
<text class="t" transform="translate(102.6 1242.5) scale(0.975 1)" text-anchor="end">30</text>
<text class="t" transform="translate(102.6 1161.0) scale(0.975 1)" text-anchor="end">40</text>
<text class="t" transform="translate(102.6 1079.5) scale(0.975 1)" text-anchor="end">50</text>
<text class="t" transform="translate(102.6 998.1) scale(0.975 1)" text-anchor="end">60</text>
<text class="t" transform="translate(102.6 916.6) scale(0.975 1)" text-anchor="end">70</text>
<text class="t" transform="translate(134.4 1531.2) scale(0.975 1)" text-anchor="middle">0</text>
<text class="t" transform="translate(317.7 1531.2) scale(0.975 1)" text-anchor="middle">5</text>
<text class="t" transform="translate(501.0 1531.2) scale(0.975 1)" text-anchor="middle">10</text>
<text class="t" transform="translate(684.4 1531.2) scale(0.975 1)" text-anchor="middle">15</text>
<text class="t" transform="translate(867.7 1531.2) scale(0.975 1)" text-anchor="middle">20</text>
<text class="t" transform="translate(1051.0 1531.2) scale(0.975 1)" text-anchor="middle">25</text>
<text class="t" transform="translate(1234.3 1531.2) scale(0.975 1)" text-anchor="middle">30</text>
<text class="t" transform="translate(1417.6 1531.2) scale(0.975 1)" text-anchor="middle">35</text>
<text class="t" transform="translate(1601.0 1531.2) scale(0.975 1)" text-anchor="middle">40</text>
<text class="b" x="1391.0" y="1580.0">Duration [km]</text>
<text class="b" transform="translate(28.5 1250.0) rotate(-90)" text-anchor="middle">V [km/h]</text>
</g>
<text class="s" y="1666.9"><tspan x="-2.5">(</tspan><tspan x="18" dy="3.2" font-size="64">b</tspan><tspan x="52" dy="-3.2">)</tspan></text>
</svg>
</body>
</html>
